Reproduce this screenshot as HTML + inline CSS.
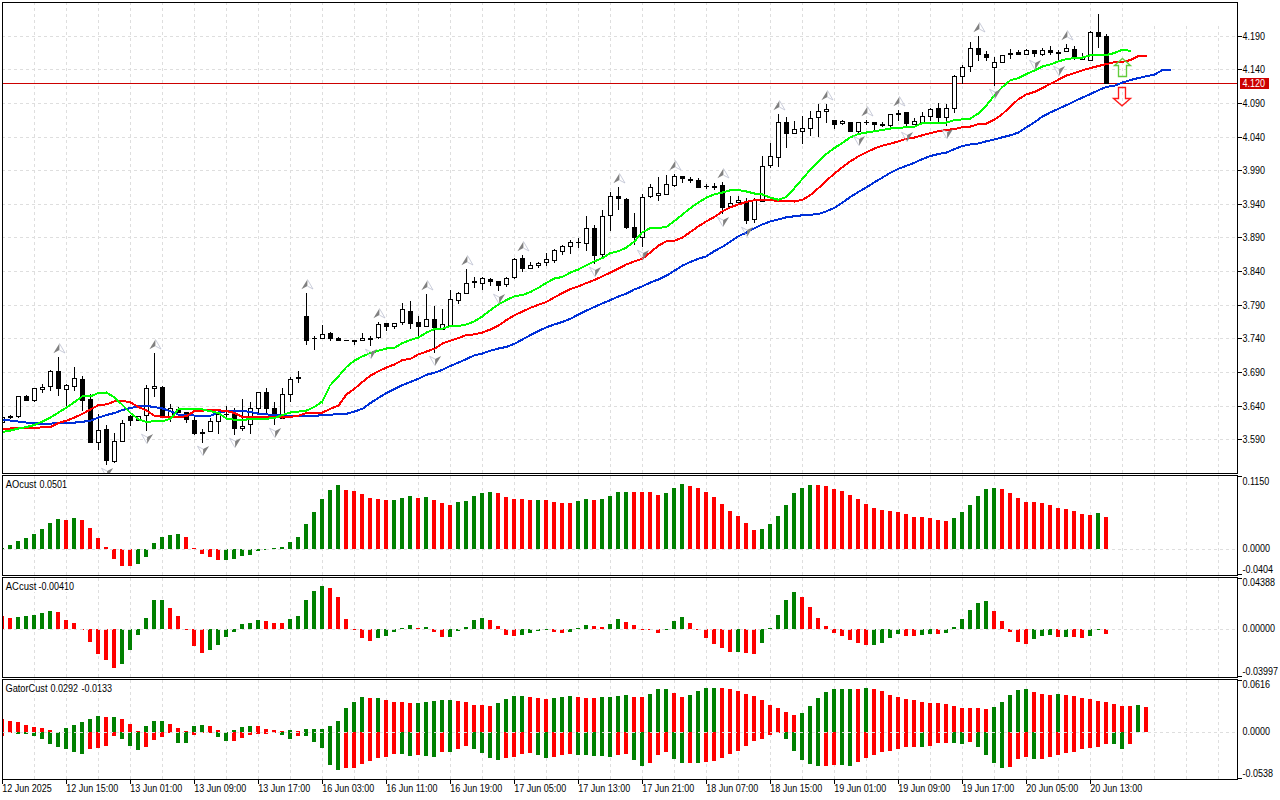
<!DOCTYPE html>
<html><head><meta charset="utf-8"><title>chart</title>
<style>html,body{margin:0;padding:0;background:#fff;overflow:hidden}svg{display:block}text{font-family:"Liberation Sans",sans-serif;font-size:10.0px;fill:#000}</style></head><body>
<svg width="1280" height="800" viewBox="0 0 1280 800">
<rect x="0" y="0" width="1280" height="800" fill="#ffffff"/>
<g shape-rendering="crispEdges" stroke="#dedede" stroke-width="1" fill="none">
<line x1="34.5" y1="3" x2="34.5" y2="473" stroke-dasharray="3 3" stroke-dashoffset="1"/>
<line x1="66.5" y1="3" x2="66.5" y2="473" stroke-dasharray="3 3" stroke-dashoffset="1"/>
<line x1="98.5" y1="3" x2="98.5" y2="473" stroke-dasharray="3 3" stroke-dashoffset="1"/>
<line x1="130.5" y1="3" x2="130.5" y2="473" stroke-dasharray="3 3" stroke-dashoffset="1"/>
<line x1="162.5" y1="3" x2="162.5" y2="473" stroke-dasharray="3 3" stroke-dashoffset="1"/>
<line x1="194.5" y1="3" x2="194.5" y2="473" stroke-dasharray="3 3" stroke-dashoffset="1"/>
<line x1="226.5" y1="3" x2="226.5" y2="473" stroke-dasharray="3 3" stroke-dashoffset="1"/>
<line x1="258.5" y1="3" x2="258.5" y2="473" stroke-dasharray="3 3" stroke-dashoffset="1"/>
<line x1="290.5" y1="3" x2="290.5" y2="473" stroke-dasharray="3 3" stroke-dashoffset="1"/>
<line x1="322.5" y1="3" x2="322.5" y2="473" stroke-dasharray="3 3" stroke-dashoffset="1"/>
<line x1="354.5" y1="3" x2="354.5" y2="473" stroke-dasharray="3 3" stroke-dashoffset="1"/>
<line x1="386.5" y1="3" x2="386.5" y2="473" stroke-dasharray="3 3" stroke-dashoffset="1"/>
<line x1="418.5" y1="3" x2="418.5" y2="473" stroke-dasharray="3 3" stroke-dashoffset="1"/>
<line x1="450.5" y1="3" x2="450.5" y2="473" stroke-dasharray="3 3" stroke-dashoffset="1"/>
<line x1="482.5" y1="3" x2="482.5" y2="473" stroke-dasharray="3 3" stroke-dashoffset="1"/>
<line x1="514.5" y1="3" x2="514.5" y2="473" stroke-dasharray="3 3" stroke-dashoffset="1"/>
<line x1="546.5" y1="3" x2="546.5" y2="473" stroke-dasharray="3 3" stroke-dashoffset="1"/>
<line x1="578.5" y1="3" x2="578.5" y2="473" stroke-dasharray="3 3" stroke-dashoffset="1"/>
<line x1="610.5" y1="3" x2="610.5" y2="473" stroke-dasharray="3 3" stroke-dashoffset="1"/>
<line x1="642.5" y1="3" x2="642.5" y2="473" stroke-dasharray="3 3" stroke-dashoffset="1"/>
<line x1="674.5" y1="3" x2="674.5" y2="473" stroke-dasharray="3 3" stroke-dashoffset="1"/>
<line x1="706.5" y1="3" x2="706.5" y2="473" stroke-dasharray="3 3" stroke-dashoffset="1"/>
<line x1="738.5" y1="3" x2="738.5" y2="473" stroke-dasharray="3 3" stroke-dashoffset="1"/>
<line x1="770.5" y1="3" x2="770.5" y2="473" stroke-dasharray="3 3" stroke-dashoffset="1"/>
<line x1="802.5" y1="3" x2="802.5" y2="473" stroke-dasharray="3 3" stroke-dashoffset="1"/>
<line x1="834.5" y1="3" x2="834.5" y2="473" stroke-dasharray="3 3" stroke-dashoffset="1"/>
<line x1="866.5" y1="3" x2="866.5" y2="473" stroke-dasharray="3 3" stroke-dashoffset="1"/>
<line x1="898.5" y1="3" x2="898.5" y2="473" stroke-dasharray="3 3" stroke-dashoffset="1"/>
<line x1="930.5" y1="3" x2="930.5" y2="473" stroke-dasharray="3 3" stroke-dashoffset="1"/>
<line x1="962.5" y1="3" x2="962.5" y2="473" stroke-dasharray="3 3" stroke-dashoffset="1"/>
<line x1="994.5" y1="3" x2="994.5" y2="473" stroke-dasharray="3 3" stroke-dashoffset="1"/>
<line x1="1026.5" y1="3" x2="1026.5" y2="473" stroke-dasharray="3 3" stroke-dashoffset="1"/>
<line x1="1058.5" y1="3" x2="1058.5" y2="473" stroke-dasharray="3 3" stroke-dashoffset="1"/>
<line x1="1090.5" y1="3" x2="1090.5" y2="473" stroke-dasharray="3 3" stroke-dashoffset="1"/>
<line x1="1122.5" y1="3" x2="1122.5" y2="473" stroke-dasharray="3 3" stroke-dashoffset="1"/>
<line x1="1154.5" y1="26" x2="1154.5" y2="473" stroke-dasharray="3 3" stroke-dashoffset="0"/>
<line x1="1186.5" y1="26" x2="1186.5" y2="473" stroke-dasharray="3 3" stroke-dashoffset="0"/>
<line x1="1218.5" y1="26" x2="1218.5" y2="473" stroke-dasharray="3 3" stroke-dashoffset="0"/>
<line x1="34.5" y1="476" x2="34.5" y2="575" stroke-dasharray="3 3" stroke-dashoffset="0"/>
<line x1="66.5" y1="476" x2="66.5" y2="575" stroke-dasharray="3 3" stroke-dashoffset="0"/>
<line x1="98.5" y1="476" x2="98.5" y2="575" stroke-dasharray="3 3" stroke-dashoffset="0"/>
<line x1="130.5" y1="476" x2="130.5" y2="575" stroke-dasharray="3 3" stroke-dashoffset="0"/>
<line x1="162.5" y1="476" x2="162.5" y2="575" stroke-dasharray="3 3" stroke-dashoffset="0"/>
<line x1="194.5" y1="476" x2="194.5" y2="575" stroke-dasharray="3 3" stroke-dashoffset="0"/>
<line x1="226.5" y1="476" x2="226.5" y2="575" stroke-dasharray="3 3" stroke-dashoffset="0"/>
<line x1="258.5" y1="476" x2="258.5" y2="575" stroke-dasharray="3 3" stroke-dashoffset="0"/>
<line x1="290.5" y1="476" x2="290.5" y2="575" stroke-dasharray="3 3" stroke-dashoffset="0"/>
<line x1="322.5" y1="476" x2="322.5" y2="575" stroke-dasharray="3 3" stroke-dashoffset="0"/>
<line x1="354.5" y1="476" x2="354.5" y2="575" stroke-dasharray="3 3" stroke-dashoffset="0"/>
<line x1="386.5" y1="476" x2="386.5" y2="575" stroke-dasharray="3 3" stroke-dashoffset="0"/>
<line x1="418.5" y1="476" x2="418.5" y2="575" stroke-dasharray="3 3" stroke-dashoffset="0"/>
<line x1="450.5" y1="476" x2="450.5" y2="575" stroke-dasharray="3 3" stroke-dashoffset="0"/>
<line x1="482.5" y1="476" x2="482.5" y2="575" stroke-dasharray="3 3" stroke-dashoffset="0"/>
<line x1="514.5" y1="476" x2="514.5" y2="575" stroke-dasharray="3 3" stroke-dashoffset="0"/>
<line x1="546.5" y1="476" x2="546.5" y2="575" stroke-dasharray="3 3" stroke-dashoffset="0"/>
<line x1="578.5" y1="476" x2="578.5" y2="575" stroke-dasharray="3 3" stroke-dashoffset="0"/>
<line x1="610.5" y1="476" x2="610.5" y2="575" stroke-dasharray="3 3" stroke-dashoffset="0"/>
<line x1="642.5" y1="476" x2="642.5" y2="575" stroke-dasharray="3 3" stroke-dashoffset="0"/>
<line x1="674.5" y1="476" x2="674.5" y2="575" stroke-dasharray="3 3" stroke-dashoffset="0"/>
<line x1="706.5" y1="476" x2="706.5" y2="575" stroke-dasharray="3 3" stroke-dashoffset="0"/>
<line x1="738.5" y1="476" x2="738.5" y2="575" stroke-dasharray="3 3" stroke-dashoffset="0"/>
<line x1="770.5" y1="476" x2="770.5" y2="575" stroke-dasharray="3 3" stroke-dashoffset="0"/>
<line x1="802.5" y1="476" x2="802.5" y2="575" stroke-dasharray="3 3" stroke-dashoffset="0"/>
<line x1="834.5" y1="476" x2="834.5" y2="575" stroke-dasharray="3 3" stroke-dashoffset="0"/>
<line x1="866.5" y1="476" x2="866.5" y2="575" stroke-dasharray="3 3" stroke-dashoffset="0"/>
<line x1="898.5" y1="476" x2="898.5" y2="575" stroke-dasharray="3 3" stroke-dashoffset="0"/>
<line x1="930.5" y1="476" x2="930.5" y2="575" stroke-dasharray="3 3" stroke-dashoffset="0"/>
<line x1="962.5" y1="476" x2="962.5" y2="575" stroke-dasharray="3 3" stroke-dashoffset="0"/>
<line x1="994.5" y1="476" x2="994.5" y2="575" stroke-dasharray="3 3" stroke-dashoffset="0"/>
<line x1="1026.5" y1="476" x2="1026.5" y2="575" stroke-dasharray="3 3" stroke-dashoffset="0"/>
<line x1="1058.5" y1="476" x2="1058.5" y2="575" stroke-dasharray="3 3" stroke-dashoffset="0"/>
<line x1="1090.5" y1="476" x2="1090.5" y2="575" stroke-dasharray="3 3" stroke-dashoffset="0"/>
<line x1="1122.5" y1="476" x2="1122.5" y2="575" stroke-dasharray="3 3" stroke-dashoffset="0"/>
<line x1="1154.5" y1="476" x2="1154.5" y2="575" stroke-dasharray="3 3" stroke-dashoffset="0"/>
<line x1="1186.5" y1="476" x2="1186.5" y2="575" stroke-dasharray="3 3" stroke-dashoffset="0"/>
<line x1="1218.5" y1="476" x2="1218.5" y2="575" stroke-dasharray="3 3" stroke-dashoffset="0"/>
<line x1="34.5" y1="578" x2="34.5" y2="677" stroke-dasharray="3 3" stroke-dashoffset="0"/>
<line x1="66.5" y1="578" x2="66.5" y2="677" stroke-dasharray="3 3" stroke-dashoffset="0"/>
<line x1="98.5" y1="578" x2="98.5" y2="677" stroke-dasharray="3 3" stroke-dashoffset="0"/>
<line x1="130.5" y1="578" x2="130.5" y2="677" stroke-dasharray="3 3" stroke-dashoffset="0"/>
<line x1="162.5" y1="578" x2="162.5" y2="677" stroke-dasharray="3 3" stroke-dashoffset="0"/>
<line x1="194.5" y1="578" x2="194.5" y2="677" stroke-dasharray="3 3" stroke-dashoffset="0"/>
<line x1="226.5" y1="578" x2="226.5" y2="677" stroke-dasharray="3 3" stroke-dashoffset="0"/>
<line x1="258.5" y1="578" x2="258.5" y2="677" stroke-dasharray="3 3" stroke-dashoffset="0"/>
<line x1="290.5" y1="578" x2="290.5" y2="677" stroke-dasharray="3 3" stroke-dashoffset="0"/>
<line x1="322.5" y1="578" x2="322.5" y2="677" stroke-dasharray="3 3" stroke-dashoffset="0"/>
<line x1="354.5" y1="578" x2="354.5" y2="677" stroke-dasharray="3 3" stroke-dashoffset="0"/>
<line x1="386.5" y1="578" x2="386.5" y2="677" stroke-dasharray="3 3" stroke-dashoffset="0"/>
<line x1="418.5" y1="578" x2="418.5" y2="677" stroke-dasharray="3 3" stroke-dashoffset="0"/>
<line x1="450.5" y1="578" x2="450.5" y2="677" stroke-dasharray="3 3" stroke-dashoffset="0"/>
<line x1="482.5" y1="578" x2="482.5" y2="677" stroke-dasharray="3 3" stroke-dashoffset="0"/>
<line x1="514.5" y1="578" x2="514.5" y2="677" stroke-dasharray="3 3" stroke-dashoffset="0"/>
<line x1="546.5" y1="578" x2="546.5" y2="677" stroke-dasharray="3 3" stroke-dashoffset="0"/>
<line x1="578.5" y1="578" x2="578.5" y2="677" stroke-dasharray="3 3" stroke-dashoffset="0"/>
<line x1="610.5" y1="578" x2="610.5" y2="677" stroke-dasharray="3 3" stroke-dashoffset="0"/>
<line x1="642.5" y1="578" x2="642.5" y2="677" stroke-dasharray="3 3" stroke-dashoffset="0"/>
<line x1="674.5" y1="578" x2="674.5" y2="677" stroke-dasharray="3 3" stroke-dashoffset="0"/>
<line x1="706.5" y1="578" x2="706.5" y2="677" stroke-dasharray="3 3" stroke-dashoffset="0"/>
<line x1="738.5" y1="578" x2="738.5" y2="677" stroke-dasharray="3 3" stroke-dashoffset="0"/>
<line x1="770.5" y1="578" x2="770.5" y2="677" stroke-dasharray="3 3" stroke-dashoffset="0"/>
<line x1="802.5" y1="578" x2="802.5" y2="677" stroke-dasharray="3 3" stroke-dashoffset="0"/>
<line x1="834.5" y1="578" x2="834.5" y2="677" stroke-dasharray="3 3" stroke-dashoffset="0"/>
<line x1="866.5" y1="578" x2="866.5" y2="677" stroke-dasharray="3 3" stroke-dashoffset="0"/>
<line x1="898.5" y1="578" x2="898.5" y2="677" stroke-dasharray="3 3" stroke-dashoffset="0"/>
<line x1="930.5" y1="578" x2="930.5" y2="677" stroke-dasharray="3 3" stroke-dashoffset="0"/>
<line x1="962.5" y1="578" x2="962.5" y2="677" stroke-dasharray="3 3" stroke-dashoffset="0"/>
<line x1="994.5" y1="578" x2="994.5" y2="677" stroke-dasharray="3 3" stroke-dashoffset="0"/>
<line x1="1026.5" y1="578" x2="1026.5" y2="677" stroke-dasharray="3 3" stroke-dashoffset="0"/>
<line x1="1058.5" y1="578" x2="1058.5" y2="677" stroke-dasharray="3 3" stroke-dashoffset="0"/>
<line x1="1090.5" y1="578" x2="1090.5" y2="677" stroke-dasharray="3 3" stroke-dashoffset="0"/>
<line x1="1122.5" y1="578" x2="1122.5" y2="677" stroke-dasharray="3 3" stroke-dashoffset="0"/>
<line x1="1154.5" y1="578" x2="1154.5" y2="677" stroke-dasharray="3 3" stroke-dashoffset="0"/>
<line x1="1186.5" y1="578" x2="1186.5" y2="677" stroke-dasharray="3 3" stroke-dashoffset="0"/>
<line x1="1218.5" y1="578" x2="1218.5" y2="677" stroke-dasharray="3 3" stroke-dashoffset="0"/>
<line x1="34.5" y1="680" x2="34.5" y2="779" stroke-dasharray="3 3" stroke-dashoffset="0"/>
<line x1="66.5" y1="680" x2="66.5" y2="779" stroke-dasharray="3 3" stroke-dashoffset="0"/>
<line x1="98.5" y1="680" x2="98.5" y2="779" stroke-dasharray="3 3" stroke-dashoffset="0"/>
<line x1="130.5" y1="680" x2="130.5" y2="779" stroke-dasharray="3 3" stroke-dashoffset="0"/>
<line x1="162.5" y1="680" x2="162.5" y2="779" stroke-dasharray="3 3" stroke-dashoffset="0"/>
<line x1="194.5" y1="680" x2="194.5" y2="779" stroke-dasharray="3 3" stroke-dashoffset="0"/>
<line x1="226.5" y1="680" x2="226.5" y2="779" stroke-dasharray="3 3" stroke-dashoffset="0"/>
<line x1="258.5" y1="680" x2="258.5" y2="779" stroke-dasharray="3 3" stroke-dashoffset="0"/>
<line x1="290.5" y1="680" x2="290.5" y2="779" stroke-dasharray="3 3" stroke-dashoffset="0"/>
<line x1="322.5" y1="680" x2="322.5" y2="779" stroke-dasharray="3 3" stroke-dashoffset="0"/>
<line x1="354.5" y1="680" x2="354.5" y2="779" stroke-dasharray="3 3" stroke-dashoffset="0"/>
<line x1="386.5" y1="680" x2="386.5" y2="779" stroke-dasharray="3 3" stroke-dashoffset="0"/>
<line x1="418.5" y1="680" x2="418.5" y2="779" stroke-dasharray="3 3" stroke-dashoffset="0"/>
<line x1="450.5" y1="680" x2="450.5" y2="779" stroke-dasharray="3 3" stroke-dashoffset="0"/>
<line x1="482.5" y1="680" x2="482.5" y2="779" stroke-dasharray="3 3" stroke-dashoffset="0"/>
<line x1="514.5" y1="680" x2="514.5" y2="779" stroke-dasharray="3 3" stroke-dashoffset="0"/>
<line x1="546.5" y1="680" x2="546.5" y2="779" stroke-dasharray="3 3" stroke-dashoffset="0"/>
<line x1="578.5" y1="680" x2="578.5" y2="779" stroke-dasharray="3 3" stroke-dashoffset="0"/>
<line x1="610.5" y1="680" x2="610.5" y2="779" stroke-dasharray="3 3" stroke-dashoffset="0"/>
<line x1="642.5" y1="680" x2="642.5" y2="779" stroke-dasharray="3 3" stroke-dashoffset="0"/>
<line x1="674.5" y1="680" x2="674.5" y2="779" stroke-dasharray="3 3" stroke-dashoffset="0"/>
<line x1="706.5" y1="680" x2="706.5" y2="779" stroke-dasharray="3 3" stroke-dashoffset="0"/>
<line x1="738.5" y1="680" x2="738.5" y2="779" stroke-dasharray="3 3" stroke-dashoffset="0"/>
<line x1="770.5" y1="680" x2="770.5" y2="779" stroke-dasharray="3 3" stroke-dashoffset="0"/>
<line x1="802.5" y1="680" x2="802.5" y2="779" stroke-dasharray="3 3" stroke-dashoffset="0"/>
<line x1="834.5" y1="680" x2="834.5" y2="779" stroke-dasharray="3 3" stroke-dashoffset="0"/>
<line x1="866.5" y1="680" x2="866.5" y2="779" stroke-dasharray="3 3" stroke-dashoffset="0"/>
<line x1="898.5" y1="680" x2="898.5" y2="779" stroke-dasharray="3 3" stroke-dashoffset="0"/>
<line x1="930.5" y1="680" x2="930.5" y2="779" stroke-dasharray="3 3" stroke-dashoffset="0"/>
<line x1="962.5" y1="680" x2="962.5" y2="779" stroke-dasharray="3 3" stroke-dashoffset="0"/>
<line x1="994.5" y1="680" x2="994.5" y2="779" stroke-dasharray="3 3" stroke-dashoffset="0"/>
<line x1="1026.5" y1="680" x2="1026.5" y2="779" stroke-dasharray="3 3" stroke-dashoffset="0"/>
<line x1="1058.5" y1="680" x2="1058.5" y2="779" stroke-dasharray="3 3" stroke-dashoffset="0"/>
<line x1="1090.5" y1="680" x2="1090.5" y2="779" stroke-dasharray="3 3" stroke-dashoffset="0"/>
<line x1="1122.5" y1="680" x2="1122.5" y2="779" stroke-dasharray="3 3" stroke-dashoffset="0"/>
<line x1="1154.5" y1="680" x2="1154.5" y2="779" stroke-dasharray="3 3" stroke-dashoffset="0"/>
<line x1="1186.5" y1="680" x2="1186.5" y2="779" stroke-dasharray="3 3" stroke-dashoffset="0"/>
<line x1="1218.5" y1="680" x2="1218.5" y2="779" stroke-dasharray="3 3" stroke-dashoffset="0"/>
<line x1="3" y1="36.5" x2="1237" y2="36.5" stroke-dasharray="3 3" stroke-dashoffset="1"/>
<line x1="3" y1="69.5" x2="1237" y2="69.5" stroke-dasharray="3 3" stroke-dashoffset="1"/>
<line x1="3" y1="103.5" x2="1237" y2="103.5" stroke-dasharray="3 3" stroke-dashoffset="1"/>
<line x1="3" y1="137.5" x2="1237" y2="137.5" stroke-dasharray="3 3" stroke-dashoffset="1"/>
<line x1="3" y1="170.5" x2="1237" y2="170.5" stroke-dasharray="3 3" stroke-dashoffset="1"/>
<line x1="3" y1="204.5" x2="1237" y2="204.5" stroke-dasharray="3 3" stroke-dashoffset="1"/>
<line x1="3" y1="237.5" x2="1237" y2="237.5" stroke-dasharray="3 3" stroke-dashoffset="1"/>
<line x1="3" y1="271.5" x2="1237" y2="271.5" stroke-dasharray="3 3" stroke-dashoffset="1"/>
<line x1="3" y1="305.5" x2="1237" y2="305.5" stroke-dasharray="3 3" stroke-dashoffset="1"/>
<line x1="3" y1="338.5" x2="1237" y2="338.5" stroke-dasharray="3 3" stroke-dashoffset="1"/>
<line x1="3" y1="372.5" x2="1237" y2="372.5" stroke-dasharray="3 3" stroke-dashoffset="1"/>
<line x1="3" y1="406.5" x2="1237" y2="406.5" stroke-dasharray="3 3" stroke-dashoffset="1"/>
<line x1="3" y1="439.5" x2="1237" y2="439.5" stroke-dasharray="3 3" stroke-dashoffset="1"/>
</g>
<defs><clipPath id="cm"><rect x="3" y="3" width="1234" height="470"/></clipPath></defs>
<g clip-path="url(#cm)">
<g shape-rendering="crispEdges">
<rect x="3" y="83" width="1234" height="1" fill="#cc0000"/>
<rect x="2" y="417" width="1" height="6" fill="#000"/>
<rect x="0" y="417" width="5" height="6" fill="#000"/>
<rect x="1" y="418" width="3" height="4" fill="#fff"/>
<rect x="10" y="415" width="1" height="4" fill="#000"/>
<rect x="8" y="416" width="5" height="2" fill="#000"/>
<rect x="18" y="396" width="1" height="22" fill="#000"/>
<rect x="16" y="396" width="5" height="21" fill="#000"/>
<rect x="17" y="397" width="3" height="19" fill="#fff"/>
<rect x="26" y="395" width="1" height="6" fill="#000"/>
<rect x="24" y="396" width="5" height="5" fill="#000"/>
<rect x="34" y="388" width="1" height="14" fill="#000"/>
<rect x="32" y="388" width="5" height="13" fill="#000"/>
<rect x="33" y="389" width="3" height="11" fill="#fff"/>
<rect x="42" y="384" width="1" height="9" fill="#000"/>
<rect x="40" y="387" width="5" height="3" fill="#000"/>
<rect x="41" y="388" width="3" height="1" fill="#fff"/>
<rect x="50" y="370" width="1" height="21" fill="#000"/>
<rect x="48" y="371" width="5" height="16" fill="#000"/>
<rect x="49" y="372" width="3" height="14" fill="#fff"/>
<rect x="58" y="357" width="1" height="39" fill="#000"/>
<rect x="56" y="371" width="5" height="18" fill="#000"/>
<rect x="66" y="384" width="1" height="22" fill="#000"/>
<rect x="64" y="385" width="5" height="5" fill="#000"/>
<rect x="65" y="386" width="3" height="3" fill="#fff"/>
<rect x="74" y="367" width="1" height="24" fill="#000"/>
<rect x="72" y="378" width="5" height="9" fill="#000"/>
<rect x="73" y="379" width="3" height="7" fill="#fff"/>
<rect x="82" y="376" width="1" height="35" fill="#000"/>
<rect x="80" y="379" width="5" height="22" fill="#000"/>
<rect x="90" y="394" width="1" height="49" fill="#000"/>
<rect x="88" y="399" width="5" height="44" fill="#000"/>
<rect x="98" y="414" width="1" height="36" fill="#000"/>
<rect x="96" y="430" width="5" height="13" fill="#000"/>
<rect x="97" y="431" width="3" height="11" fill="#fff"/>
<rect x="106" y="425" width="1" height="40" fill="#000"/>
<rect x="104" y="429" width="5" height="32" fill="#000"/>
<rect x="114" y="433" width="1" height="30" fill="#000"/>
<rect x="112" y="441" width="5" height="21" fill="#000"/>
<rect x="113" y="442" width="3" height="19" fill="#fff"/>
<rect x="122" y="420" width="1" height="22" fill="#000"/>
<rect x="120" y="423" width="5" height="19" fill="#000"/>
<rect x="121" y="424" width="3" height="17" fill="#fff"/>
<rect x="130" y="415" width="1" height="11" fill="#000"/>
<rect x="128" y="416" width="5" height="5" fill="#000"/>
<rect x="138" y="416" width="1" height="5" fill="#000"/>
<rect x="136" y="416" width="5" height="5" fill="#000"/>
<rect x="137" y="417" width="3" height="3" fill="#fff"/>
<rect x="146" y="385" width="1" height="46" fill="#000"/>
<rect x="144" y="388" width="5" height="28" fill="#000"/>
<rect x="145" y="389" width="3" height="26" fill="#fff"/>
<rect x="154" y="353" width="1" height="44" fill="#000"/>
<rect x="152" y="386" width="5" height="3" fill="#000"/>
<rect x="153" y="387" width="3" height="1" fill="#fff"/>
<rect x="162" y="386" width="1" height="30" fill="#000"/>
<rect x="160" y="387" width="5" height="29" fill="#000"/>
<rect x="170" y="404" width="1" height="18" fill="#000"/>
<rect x="168" y="408" width="5" height="9" fill="#000"/>
<rect x="169" y="409" width="3" height="7" fill="#fff"/>
<rect x="178" y="407" width="1" height="6" fill="#000"/>
<rect x="176" y="409" width="5" height="4" fill="#000"/>
<rect x="186" y="412" width="1" height="11" fill="#000"/>
<rect x="184" y="412" width="5" height="8" fill="#000"/>
<rect x="194" y="417" width="1" height="18" fill="#000"/>
<rect x="192" y="420" width="5" height="14" fill="#000"/>
<rect x="202" y="429" width="1" height="14" fill="#000"/>
<rect x="200" y="432" width="5" height="2" fill="#000"/>
<rect x="210" y="418" width="1" height="14" fill="#000"/>
<rect x="208" y="421" width="5" height="11" fill="#000"/>
<rect x="209" y="422" width="3" height="9" fill="#fff"/>
<rect x="218" y="412" width="1" height="22" fill="#000"/>
<rect x="216" y="414" width="5" height="8" fill="#000"/>
<rect x="217" y="415" width="3" height="6" fill="#fff"/>
<rect x="226" y="406" width="1" height="12" fill="#000"/>
<rect x="224" y="414" width="5" height="1" fill="#000"/>
<rect x="234" y="408" width="1" height="27" fill="#000"/>
<rect x="232" y="414" width="5" height="15" fill="#000"/>
<rect x="242" y="399" width="1" height="32" fill="#000"/>
<rect x="240" y="426" width="5" height="3" fill="#000"/>
<rect x="241" y="427" width="3" height="1" fill="#fff"/>
<rect x="250" y="402" width="1" height="32" fill="#000"/>
<rect x="248" y="408" width="5" height="17" fill="#000"/>
<rect x="249" y="409" width="3" height="15" fill="#fff"/>
<rect x="258" y="392" width="1" height="21" fill="#000"/>
<rect x="256" y="392" width="5" height="17" fill="#000"/>
<rect x="257" y="393" width="3" height="15" fill="#fff"/>
<rect x="266" y="388" width="1" height="26" fill="#000"/>
<rect x="264" y="392" width="5" height="17" fill="#000"/>
<rect x="274" y="402" width="1" height="23" fill="#000"/>
<rect x="272" y="408" width="5" height="8" fill="#000"/>
<rect x="282" y="388" width="1" height="31" fill="#000"/>
<rect x="280" y="394" width="5" height="25" fill="#000"/>
<rect x="281" y="395" width="3" height="23" fill="#fff"/>
<rect x="290" y="377" width="1" height="25" fill="#000"/>
<rect x="288" y="379" width="5" height="16" fill="#000"/>
<rect x="289" y="380" width="3" height="14" fill="#fff"/>
<rect x="298" y="371" width="1" height="12" fill="#000"/>
<rect x="296" y="377" width="5" height="2" fill="#000"/>
<rect x="306" y="293" width="1" height="52" fill="#000"/>
<rect x="304" y="316" width="5" height="25" fill="#000"/>
<rect x="314" y="336" width="1" height="14" fill="#000"/>
<rect x="312" y="338" width="5" height="1" fill="#000"/>
<rect x="322" y="325" width="1" height="14" fill="#000"/>
<rect x="320" y="334" width="5" height="5" fill="#000"/>
<rect x="321" y="335" width="3" height="3" fill="#fff"/>
<rect x="330" y="332" width="1" height="9" fill="#000"/>
<rect x="328" y="333" width="5" height="6" fill="#000"/>
<rect x="338" y="337" width="1" height="4" fill="#000"/>
<rect x="336" y="338" width="5" height="3" fill="#000"/>
<rect x="346" y="340" width="1" height="1" fill="#000"/>
<rect x="344" y="340" width="5" height="1" fill="#000"/>
<rect x="354" y="340" width="1" height="5" fill="#000"/>
<rect x="352" y="340" width="5" height="2" fill="#000"/>
<rect x="362" y="333" width="1" height="8" fill="#000"/>
<rect x="360" y="338" width="5" height="3" fill="#000"/>
<rect x="361" y="339" width="3" height="1" fill="#fff"/>
<rect x="370" y="336" width="1" height="10" fill="#000"/>
<rect x="368" y="338" width="5" height="2" fill="#000"/>
<rect x="378" y="322" width="1" height="17" fill="#000"/>
<rect x="376" y="324" width="5" height="14" fill="#000"/>
<rect x="377" y="325" width="3" height="12" fill="#fff"/>
<rect x="386" y="323" width="1" height="8" fill="#000"/>
<rect x="384" y="323" width="5" height="4" fill="#000"/>
<rect x="394" y="323" width="1" height="6" fill="#000"/>
<rect x="392" y="323" width="5" height="4" fill="#000"/>
<rect x="393" y="324" width="3" height="2" fill="#fff"/>
<rect x="402" y="303" width="1" height="22" fill="#000"/>
<rect x="400" y="309" width="5" height="14" fill="#000"/>
<rect x="401" y="310" width="3" height="12" fill="#fff"/>
<rect x="410" y="301" width="1" height="28" fill="#000"/>
<rect x="408" y="311" width="5" height="13" fill="#000"/>
<rect x="418" y="316" width="1" height="21" fill="#000"/>
<rect x="416" y="322" width="5" height="5" fill="#000"/>
<rect x="426" y="294" width="1" height="33" fill="#000"/>
<rect x="424" y="319" width="5" height="8" fill="#000"/>
<rect x="425" y="320" width="3" height="6" fill="#fff"/>
<rect x="434" y="306" width="1" height="47" fill="#000"/>
<rect x="432" y="319" width="5" height="9" fill="#000"/>
<rect x="442" y="309" width="1" height="21" fill="#000"/>
<rect x="440" y="324" width="5" height="6" fill="#000"/>
<rect x="441" y="325" width="3" height="4" fill="#fff"/>
<rect x="450" y="290" width="1" height="36" fill="#000"/>
<rect x="448" y="299" width="5" height="27" fill="#000"/>
<rect x="449" y="300" width="3" height="25" fill="#fff"/>
<rect x="458" y="292" width="1" height="12" fill="#000"/>
<rect x="456" y="293" width="5" height="8" fill="#000"/>
<rect x="457" y="294" width="3" height="6" fill="#fff"/>
<rect x="466" y="269" width="1" height="25" fill="#000"/>
<rect x="464" y="283" width="5" height="11" fill="#000"/>
<rect x="465" y="284" width="3" height="9" fill="#fff"/>
<rect x="474" y="277" width="1" height="11" fill="#000"/>
<rect x="472" y="281" width="5" height="2" fill="#000"/>
<rect x="482" y="277" width="1" height="13" fill="#000"/>
<rect x="480" y="278" width="5" height="6" fill="#000"/>
<rect x="481" y="279" width="3" height="4" fill="#fff"/>
<rect x="490" y="278" width="1" height="8" fill="#000"/>
<rect x="488" y="279" width="5" height="3" fill="#000"/>
<rect x="498" y="281" width="1" height="10" fill="#000"/>
<rect x="496" y="281" width="5" height="5" fill="#000"/>
<rect x="506" y="277" width="1" height="10" fill="#000"/>
<rect x="504" y="278" width="5" height="7" fill="#000"/>
<rect x="505" y="279" width="3" height="5" fill="#fff"/>
<rect x="514" y="258" width="1" height="21" fill="#000"/>
<rect x="512" y="259" width="5" height="19" fill="#000"/>
<rect x="513" y="260" width="3" height="17" fill="#fff"/>
<rect x="522" y="255" width="1" height="17" fill="#000"/>
<rect x="520" y="258" width="5" height="11" fill="#000"/>
<rect x="530" y="262" width="1" height="7" fill="#000"/>
<rect x="528" y="265" width="5" height="4" fill="#000"/>
<rect x="529" y="266" width="3" height="2" fill="#fff"/>
<rect x="538" y="262" width="1" height="6" fill="#000"/>
<rect x="536" y="263" width="5" height="3" fill="#000"/>
<rect x="537" y="264" width="3" height="1" fill="#fff"/>
<rect x="546" y="253" width="1" height="13" fill="#000"/>
<rect x="544" y="259" width="5" height="4" fill="#000"/>
<rect x="545" y="260" width="3" height="2" fill="#fff"/>
<rect x="554" y="249" width="1" height="14" fill="#000"/>
<rect x="552" y="250" width="5" height="11" fill="#000"/>
<rect x="553" y="251" width="3" height="9" fill="#fff"/>
<rect x="562" y="245" width="1" height="10" fill="#000"/>
<rect x="560" y="246" width="5" height="6" fill="#000"/>
<rect x="561" y="247" width="3" height="4" fill="#fff"/>
<rect x="570" y="240" width="1" height="14" fill="#000"/>
<rect x="568" y="242" width="5" height="5" fill="#000"/>
<rect x="569" y="243" width="3" height="3" fill="#fff"/>
<rect x="578" y="238" width="1" height="10" fill="#000"/>
<rect x="576" y="242" width="5" height="1" fill="#000"/>
<rect x="586" y="216" width="1" height="35" fill="#000"/>
<rect x="584" y="228" width="5" height="16" fill="#000"/>
<rect x="585" y="229" width="3" height="14" fill="#fff"/>
<rect x="594" y="225" width="1" height="39" fill="#000"/>
<rect x="592" y="228" width="5" height="28" fill="#000"/>
<rect x="602" y="210" width="1" height="48" fill="#000"/>
<rect x="600" y="216" width="5" height="39" fill="#000"/>
<rect x="601" y="217" width="3" height="37" fill="#fff"/>
<rect x="610" y="192" width="1" height="39" fill="#000"/>
<rect x="608" y="196" width="5" height="20" fill="#000"/>
<rect x="609" y="197" width="3" height="18" fill="#fff"/>
<rect x="618" y="187" width="1" height="23" fill="#000"/>
<rect x="616" y="196" width="5" height="3" fill="#000"/>
<rect x="626" y="198" width="1" height="31" fill="#000"/>
<rect x="624" y="199" width="5" height="29" fill="#000"/>
<rect x="634" y="213" width="1" height="32" fill="#000"/>
<rect x="632" y="227" width="5" height="11" fill="#000"/>
<rect x="642" y="194" width="1" height="53" fill="#000"/>
<rect x="640" y="197" width="5" height="41" fill="#000"/>
<rect x="641" y="198" width="3" height="39" fill="#fff"/>
<rect x="650" y="184" width="1" height="14" fill="#000"/>
<rect x="648" y="187" width="5" height="10" fill="#000"/>
<rect x="649" y="188" width="3" height="8" fill="#fff"/>
<rect x="658" y="177" width="1" height="24" fill="#000"/>
<rect x="656" y="193" width="5" height="3" fill="#000"/>
<rect x="657" y="194" width="3" height="1" fill="#fff"/>
<rect x="666" y="175" width="1" height="20" fill="#000"/>
<rect x="664" y="184" width="5" height="11" fill="#000"/>
<rect x="665" y="185" width="3" height="9" fill="#fff"/>
<rect x="674" y="174" width="1" height="13" fill="#000"/>
<rect x="672" y="176" width="5" height="10" fill="#000"/>
<rect x="673" y="177" width="3" height="8" fill="#fff"/>
<rect x="682" y="176" width="1" height="7" fill="#000"/>
<rect x="680" y="176" width="5" height="3" fill="#000"/>
<rect x="690" y="177" width="1" height="6" fill="#000"/>
<rect x="688" y="179" width="5" height="2" fill="#000"/>
<rect x="698" y="178" width="1" height="10" fill="#000"/>
<rect x="696" y="180" width="5" height="8" fill="#000"/>
<rect x="706" y="184" width="1" height="5" fill="#000"/>
<rect x="704" y="186" width="5" height="1" fill="#000"/>
<rect x="714" y="183" width="1" height="7" fill="#000"/>
<rect x="712" y="186" width="5" height="2" fill="#000"/>
<rect x="722" y="182" width="1" height="32" fill="#000"/>
<rect x="720" y="185" width="5" height="23" fill="#000"/>
<rect x="730" y="196" width="1" height="11" fill="#000"/>
<rect x="728" y="203" width="5" height="4" fill="#000"/>
<rect x="729" y="204" width="3" height="2" fill="#fff"/>
<rect x="738" y="196" width="1" height="8" fill="#000"/>
<rect x="736" y="200" width="5" height="3" fill="#000"/>
<rect x="737" y="201" width="3" height="1" fill="#fff"/>
<rect x="746" y="198" width="1" height="26" fill="#000"/>
<rect x="744" y="201" width="5" height="20" fill="#000"/>
<rect x="754" y="198" width="1" height="25" fill="#000"/>
<rect x="752" y="200" width="5" height="20" fill="#000"/>
<rect x="753" y="201" width="3" height="18" fill="#fff"/>
<rect x="762" y="156" width="1" height="46" fill="#000"/>
<rect x="760" y="166" width="5" height="36" fill="#000"/>
<rect x="761" y="167" width="3" height="34" fill="#fff"/>
<rect x="770" y="143" width="1" height="25" fill="#000"/>
<rect x="768" y="156" width="5" height="10" fill="#000"/>
<rect x="769" y="157" width="3" height="8" fill="#fff"/>
<rect x="778" y="114" width="1" height="53" fill="#000"/>
<rect x="776" y="122" width="5" height="36" fill="#000"/>
<rect x="777" y="123" width="3" height="34" fill="#fff"/>
<rect x="786" y="117" width="1" height="31" fill="#000"/>
<rect x="784" y="122" width="5" height="12" fill="#000"/>
<rect x="794" y="121" width="1" height="13" fill="#000"/>
<rect x="792" y="129" width="5" height="5" fill="#000"/>
<rect x="793" y="130" width="3" height="3" fill="#fff"/>
<rect x="802" y="116" width="1" height="28" fill="#000"/>
<rect x="800" y="128" width="5" height="4" fill="#000"/>
<rect x="801" y="129" width="3" height="2" fill="#fff"/>
<rect x="810" y="111" width="1" height="25" fill="#000"/>
<rect x="808" y="118" width="5" height="11" fill="#000"/>
<rect x="809" y="119" width="3" height="9" fill="#fff"/>
<rect x="818" y="104" width="1" height="33" fill="#000"/>
<rect x="816" y="111" width="5" height="7" fill="#000"/>
<rect x="817" y="112" width="3" height="5" fill="#fff"/>
<rect x="826" y="104" width="1" height="19" fill="#000"/>
<rect x="824" y="109" width="5" height="3" fill="#000"/>
<rect x="825" y="110" width="3" height="1" fill="#fff"/>
<rect x="834" y="120" width="1" height="9" fill="#000"/>
<rect x="832" y="120" width="5" height="5" fill="#000"/>
<rect x="842" y="120" width="1" height="5" fill="#000"/>
<rect x="840" y="121" width="5" height="3" fill="#000"/>
<rect x="841" y="122" width="3" height="1" fill="#fff"/>
<rect x="850" y="122" width="1" height="10" fill="#000"/>
<rect x="848" y="122" width="5" height="10" fill="#000"/>
<rect x="858" y="122" width="1" height="11" fill="#000"/>
<rect x="856" y="122" width="5" height="10" fill="#000"/>
<rect x="857" y="123" width="3" height="8" fill="#fff"/>
<rect x="866" y="120" width="1" height="5" fill="#000"/>
<rect x="864" y="122" width="5" height="1" fill="#000"/>
<rect x="874" y="122" width="1" height="9" fill="#000"/>
<rect x="872" y="122" width="5" height="3" fill="#000"/>
<rect x="882" y="122" width="1" height="5" fill="#000"/>
<rect x="880" y="124" width="5" height="2" fill="#000"/>
<rect x="890" y="114" width="1" height="13" fill="#000"/>
<rect x="888" y="114" width="5" height="12" fill="#000"/>
<rect x="889" y="115" width="3" height="10" fill="#fff"/>
<rect x="898" y="110" width="1" height="11" fill="#000"/>
<rect x="896" y="113" width="5" height="2" fill="#000"/>
<rect x="906" y="112" width="1" height="14" fill="#000"/>
<rect x="904" y="112" width="5" height="12" fill="#000"/>
<rect x="914" y="118" width="1" height="7" fill="#000"/>
<rect x="912" y="121" width="5" height="4" fill="#000"/>
<rect x="913" y="122" width="3" height="2" fill="#fff"/>
<rect x="922" y="112" width="1" height="11" fill="#000"/>
<rect x="920" y="116" width="5" height="7" fill="#000"/>
<rect x="921" y="117" width="3" height="5" fill="#fff"/>
<rect x="930" y="108" width="1" height="13" fill="#000"/>
<rect x="928" y="109" width="5" height="8" fill="#000"/>
<rect x="929" y="110" width="3" height="6" fill="#fff"/>
<rect x="938" y="103" width="1" height="19" fill="#000"/>
<rect x="936" y="108" width="5" height="10" fill="#000"/>
<rect x="946" y="104" width="1" height="22" fill="#000"/>
<rect x="944" y="108" width="5" height="10" fill="#000"/>
<rect x="945" y="109" width="3" height="8" fill="#fff"/>
<rect x="954" y="75" width="1" height="38" fill="#000"/>
<rect x="952" y="76" width="5" height="33" fill="#000"/>
<rect x="953" y="77" width="3" height="31" fill="#fff"/>
<rect x="962" y="65" width="1" height="19" fill="#000"/>
<rect x="960" y="67" width="5" height="10" fill="#000"/>
<rect x="961" y="68" width="3" height="8" fill="#fff"/>
<rect x="970" y="42" width="1" height="30" fill="#000"/>
<rect x="968" y="48" width="5" height="19" fill="#000"/>
<rect x="969" y="49" width="3" height="17" fill="#fff"/>
<rect x="978" y="36" width="1" height="25" fill="#000"/>
<rect x="976" y="48" width="5" height="7" fill="#000"/>
<rect x="986" y="51" width="1" height="10" fill="#000"/>
<rect x="984" y="54" width="5" height="4" fill="#000"/>
<rect x="994" y="57" width="1" height="29" fill="#000"/>
<rect x="992" y="62" width="5" height="6" fill="#000"/>
<rect x="993" y="63" width="3" height="4" fill="#fff"/>
<rect x="1002" y="55" width="1" height="8" fill="#000"/>
<rect x="1000" y="55" width="5" height="8" fill="#000"/>
<rect x="1001" y="56" width="3" height="6" fill="#fff"/>
<rect x="1010" y="49" width="1" height="10" fill="#000"/>
<rect x="1008" y="53" width="5" height="2" fill="#000"/>
<rect x="1018" y="50" width="1" height="5" fill="#000"/>
<rect x="1016" y="52" width="5" height="3" fill="#000"/>
<rect x="1026" y="49" width="1" height="6" fill="#000"/>
<rect x="1024" y="50" width="5" height="5" fill="#000"/>
<rect x="1025" y="51" width="3" height="3" fill="#fff"/>
<rect x="1034" y="50" width="1" height="7" fill="#000"/>
<rect x="1032" y="50" width="5" height="4" fill="#000"/>
<rect x="1042" y="48" width="1" height="8" fill="#000"/>
<rect x="1040" y="50" width="5" height="5" fill="#000"/>
<rect x="1041" y="51" width="3" height="3" fill="#fff"/>
<rect x="1050" y="46" width="1" height="9" fill="#000"/>
<rect x="1048" y="50" width="5" height="3" fill="#000"/>
<rect x="1058" y="50" width="1" height="10" fill="#000"/>
<rect x="1056" y="52" width="5" height="2" fill="#000"/>
<rect x="1066" y="44" width="1" height="8" fill="#000"/>
<rect x="1064" y="48" width="5" height="4" fill="#000"/>
<rect x="1065" y="49" width="3" height="2" fill="#fff"/>
<rect x="1074" y="46" width="1" height="14" fill="#000"/>
<rect x="1072" y="49" width="5" height="9" fill="#000"/>
<rect x="1082" y="53" width="1" height="7" fill="#000"/>
<rect x="1080" y="57" width="5" height="3" fill="#000"/>
<rect x="1081" y="58" width="3" height="1" fill="#fff"/>
<rect x="1090" y="31" width="1" height="30" fill="#000"/>
<rect x="1088" y="32" width="5" height="29" fill="#000"/>
<rect x="1089" y="33" width="3" height="27" fill="#fff"/>
<rect x="1098" y="14" width="1" height="34" fill="#000"/>
<rect x="1096" y="32" width="5" height="5" fill="#000"/>
<rect x="1106" y="34" width="1" height="50" fill="#000"/>
<rect x="1104" y="36" width="5" height="48" fill="#000"/>
</g>
<path d="M2 419h8v2h-8zM10 420h8v2h-8zM18 421h8v2h-8zM26 422h12v2h-12zM38 423h14v2h-14zM52 422h23v2h-23zM75 421h1v3h-1zM76 421h8v2h-8zM84 420h1v3h-1zM85 420h6v2h-6zM91 419h2v2h-2zM93 418h1v3h-1zM94 418h2v2h-2zM96 417h2v2h-2zM98 416h1v3h-1zM99 416h3v2h-3zM102 415h3v2h-3zM105 414h3v2h-3zM108 413h1v3h-1zM109 413h3v2h-3zM112 412h1v3h-1zM113 412h3v2h-3zM116 411h2v2h-2zM118 410h1v3h-1zM119 410h2v2h-2zM121 409h3v2h-3zM124 408h1v3h-1zM125 408h3v2h-3zM128 407h1v3h-1zM129 407h4v2h-4zM133 406h4v2h-4zM137 405h13v2h-13zM150 405h1v3h-1zM151 406h6v2h-6zM157 407h5v2h-5zM162 407h1v3h-1zM163 408h2v2h-2zM165 408h1v3h-1zM166 409h2v2h-2zM168 410h3v2h-3zM171 411h2v2h-2zM173 411h1v3h-1zM174 412h2v2h-2zM176 413h2v2h-2zM178 414h16v2h-16zM194 415h17v2h-17zM211 414h2v2h-2zM213 413h1v3h-1zM214 413h2v2h-2zM216 412h2v2h-2zM218 411h1v3h-1zM219 411h6v2h-6zM225 410h22v2h-22zM247 411h6v2h-6zM253 412h4v2h-4zM257 412h1v3h-1zM258 413h10v2h-10zM268 414h13v2h-13zM281 415h37v2h-37zM318 414h1v3h-1zM319 414h14v2h-14zM333 413h14v2h-14zM347 412h1v3h-1zM348 412h3v2h-3zM351 411h3v2h-3zM354 410h1v3h-1zM355 410h2v2h-2zM357 409h1v3h-1zM358 409h2v2h-2zM360 408h3v2h-3zM363 407h1v2h-1zM364 406h1v3h-1zM365 405h1v3h-1zM366 405h1v2h-1zM367 404h1v2h-1zM368 403h1v3h-1zM369 402h1v3h-1zM370 402h1v2h-1zM371 401h1v3h-1zM372 400h1v3h-1zM373 400h1v2h-1zM374 399h1v3h-1zM375 399h1v2h-1zM376 398h1v2h-1zM377 397h1v3h-1zM378 397h1v2h-1zM379 396h1v2h-1zM380 395h1v3h-1zM381 395h1v2h-1zM382 394h1v3h-1zM383 394h1v2h-1zM384 393h1v2h-1zM385 392h1v3h-1zM386 392h1v2h-1zM387 391h1v3h-1zM388 391h1v2h-1zM389 390h1v3h-1zM390 390h1v2h-1zM391 389h1v3h-1zM392 389h1v2h-1zM393 388h1v3h-1zM394 388h1v2h-1zM395 387h1v3h-1zM396 387h1v2h-1zM397 386h1v3h-1zM398 386h1v2h-1zM399 385h1v3h-1zM400 385h1v2h-1zM401 384h1v3h-1zM402 384h2v2h-2zM404 383h2v2h-2zM406 382h1v3h-1zM407 382h2v2h-2zM409 381h2v2h-2zM411 380h1v3h-1zM412 380h2v2h-2zM414 379h2v2h-2zM416 378h1v3h-1zM417 378h2v2h-2zM419 377h2v2h-2zM421 376h2v2h-2zM423 375h2v2h-2zM425 374h2v2h-2zM427 373h1v3h-1zM428 373h3v2h-3zM431 372h1v3h-1zM432 372h3v2h-3zM435 371h3v2h-3zM438 370h2v2h-2zM440 369h1v3h-1zM441 369h2v2h-2zM443 368h2v2h-2zM445 367h2v2h-2zM447 366h2v2h-2zM449 365h2v2h-2zM451 364h1v3h-1zM452 364h2v2h-2zM454 363h2v2h-2zM456 362h2v2h-2zM458 361h1v3h-1zM459 361h2v2h-2zM461 360h2v2h-2zM463 359h2v2h-2zM465 358h1v3h-1zM466 358h1v2h-1zM467 357h1v3h-1zM468 357h1v2h-1zM469 356h1v3h-1zM470 356h2v2h-2zM472 355h2v2h-2zM474 354h4v2h-4zM478 353h4v2h-4zM482 352h1v3h-1zM483 352h2v2h-2zM485 351h3v2h-3zM488 350h3v2h-3zM491 349h4v2h-4zM495 348h3v2h-3zM498 347h1v3h-1zM499 347h4v2h-4zM503 346h1v3h-1zM504 346h3v2h-3zM507 345h1v3h-1zM508 345h2v2h-2zM510 344h2v2h-2zM512 343h1v3h-1zM513 343h2v2h-2zM515 342h2v2h-2zM517 341h1v2h-1zM518 340h1v3h-1zM519 340h1v2h-1zM520 339h1v3h-1zM521 339h1v2h-1zM522 338h1v3h-1zM523 338h1v2h-1zM524 337h2v2h-2zM526 336h2v2h-2zM528 335h1v2h-1zM529 334h1v3h-1zM530 334h1v2h-1zM531 333h1v3h-1zM532 333h1v2h-1zM533 332h1v3h-1zM534 332h1v2h-1zM535 331h1v3h-1zM536 331h1v2h-1zM537 330h1v3h-1zM538 330h1v2h-1zM539 329h1v3h-1zM540 329h1v2h-1zM541 328h1v3h-1zM542 328h2v2h-2zM544 327h2v2h-2zM546 326h2v2h-2zM548 325h1v3h-1zM549 325h2v2h-2zM551 324h1v3h-1zM552 324h2v2h-2zM554 323h3v2h-3zM557 322h1v3h-1zM558 322h2v2h-2zM560 321h1v3h-1zM561 321h2v2h-2zM563 320h1v3h-1zM564 320h2v2h-2zM566 319h2v2h-2zM568 318h1v3h-1zM569 318h2v2h-2zM571 317h2v2h-2zM573 316h1v2h-1zM574 315h1v3h-1zM575 315h1v2h-1zM576 314h1v3h-1zM577 314h1v2h-1zM578 313h1v3h-1zM579 313h1v2h-1zM580 312h1v3h-1zM581 312h1v2h-1zM582 311h1v3h-1zM583 311h1v2h-1zM584 310h1v3h-1zM585 310h1v2h-1zM586 309h1v3h-1zM587 309h2v2h-2zM589 308h2v2h-2zM591 307h2v2h-2zM593 306h2v2h-2zM595 305h1v3h-1zM596 305h1v2h-1zM597 304h1v3h-1zM598 304h2v2h-2zM600 303h2v2h-2zM602 302h2v2h-2zM604 301h1v3h-1zM605 301h2v2h-2zM607 300h2v2h-2zM609 299h1v3h-1zM610 299h1v2h-1zM611 298h1v3h-1zM612 298h2v2h-2zM614 297h2v2h-2zM616 296h2v2h-2zM618 295h1v3h-1zM619 295h2v2h-2zM621 294h3v2h-3zM624 293h2v2h-2zM626 292h1v3h-1zM627 292h1v2h-1zM628 291h1v3h-1zM629 291h1v2h-1zM630 290h1v3h-1zM631 290h1v2h-1zM632 289h1v3h-1zM633 289h1v2h-1zM634 288h3v2h-3zM637 287h2v2h-2zM639 286h1v3h-1zM640 286h2v2h-2zM642 285h2v2h-2zM644 284h2v2h-2zM646 283h2v2h-2zM648 282h1v3h-1zM649 282h1v2h-1zM650 281h1v3h-1zM651 281h2v2h-2zM653 280h2v2h-2zM655 279h1v3h-1zM656 279h2v2h-2zM658 278h1v3h-1zM659 278h1v2h-1zM660 277h1v3h-1zM661 277h1v2h-1zM662 276h1v3h-1zM663 276h1v2h-1zM664 275h1v3h-1zM665 275h1v2h-1zM666 274h1v3h-1zM667 274h1v2h-1zM668 273h1v3h-1zM669 273h1v2h-1zM670 272h1v2h-1zM671 271h1v3h-1zM672 271h1v2h-1zM673 270h1v2h-1zM674 269h1v3h-1zM675 269h1v2h-1zM676 268h1v3h-1zM677 268h1v2h-1zM678 267h1v2h-1zM679 266h1v3h-1zM680 266h1v2h-1zM681 265h1v2h-1zM682 264h1v3h-1zM683 264h2v2h-2zM685 263h2v2h-2zM687 262h2v2h-2zM689 261h2v2h-2zM691 260h1v3h-1zM692 260h2v2h-2zM694 259h2v2h-2zM696 258h1v3h-1zM697 258h2v2h-2zM699 257h3v2h-3zM702 256h1v3h-1zM703 256h3v2h-3zM706 255h1v2h-1zM707 254h1v3h-1zM708 254h1v2h-1zM709 253h1v2h-1zM710 252h1v3h-1zM711 252h1v2h-1zM712 251h1v3h-1zM713 250h1v3h-1zM714 250h1v2h-1zM715 249h1v3h-1zM716 249h1v2h-1zM717 248h1v3h-1zM718 248h1v2h-1zM719 247h2v2h-2zM721 246h2v2h-2zM723 245h1v2h-1zM724 244h1v3h-1zM725 244h1v2h-1zM726 243h1v2h-1zM727 242h1v3h-1zM728 242h1v2h-1zM729 241h1v2h-1zM730 240h1v3h-1zM731 240h1v2h-1zM732 239h1v2h-1zM733 238h1v3h-1zM734 238h1v2h-1zM735 237h1v2h-1zM736 236h1v3h-1zM737 236h1v2h-1zM738 235h2v2h-2zM740 234h2v2h-2zM742 233h2v2h-2zM744 232h1v3h-1zM745 232h1v2h-1zM746 231h1v3h-1zM747 231h1v2h-1zM748 230h1v3h-1zM749 230h1v2h-1zM750 229h2v2h-2zM752 228h2v2h-2zM754 227h2v2h-2zM756 226h2v2h-2zM758 225h2v2h-2zM760 224h2v2h-2zM762 223h3v2h-3zM765 222h2v2h-2zM767 221h1v3h-1zM768 221h2v2h-2zM770 220h4v2h-4zM774 219h4v2h-4zM778 218h4v2h-4zM782 217h3v2h-3zM785 216h1v3h-1zM786 216h6v2h-6zM792 215h1v3h-1zM793 215h7v2h-7zM800 214h1v3h-1zM801 214h12v2h-12zM813 213h7v2h-7zM820 212h3v2h-3zM823 211h3v2h-3zM826 210h2v2h-2zM828 209h2v2h-2zM830 208h1v3h-1zM831 208h2v2h-2zM833 207h2v2h-2zM835 206h1v2h-1zM836 205h1v3h-1zM837 205h1v2h-1zM838 204h1v2h-1zM839 203h1v3h-1zM840 203h1v2h-1zM841 202h1v2h-1zM842 201h1v3h-1zM843 201h1v2h-1zM844 200h1v2h-1zM845 199h1v3h-1zM846 198h1v3h-1zM847 198h1v2h-1zM848 197h1v3h-1zM849 196h1v3h-1zM850 196h1v2h-1zM851 195h1v2h-1zM852 194h1v3h-1zM853 194h1v2h-1zM854 193h1v3h-1zM855 193h1v2h-1zM856 192h1v2h-1zM857 191h1v3h-1zM858 191h1v2h-1zM859 190h2v2h-2zM861 189h1v2h-1zM862 188h1v3h-1zM863 188h1v2h-1zM864 187h1v3h-1zM865 187h1v2h-1zM866 186h1v2h-1zM867 185h1v3h-1zM868 185h1v2h-1zM869 184h1v3h-1zM870 184h1v2h-1zM871 183h1v2h-1zM872 182h1v3h-1zM873 182h1v2h-1zM874 181h1v2h-1zM875 180h1v3h-1zM876 180h1v2h-1zM877 179h1v3h-1zM878 179h1v2h-1zM879 178h2v2h-2zM881 177h1v2h-1zM882 176h1v3h-1zM883 176h1v2h-1zM884 175h2v2h-2zM886 174h1v2h-1zM887 173h1v3h-1zM888 173h1v2h-1zM889 172h2v2h-2zM891 171h2v2h-2zM893 170h2v2h-2zM895 169h2v2h-2zM897 168h2v2h-2zM899 167h3v2h-3zM902 166h2v2h-2zM904 165h1v3h-1zM905 165h2v2h-2zM907 164h3v2h-3zM910 163h2v2h-2zM912 162h1v3h-1zM913 162h2v2h-2zM915 161h2v2h-2zM917 160h2v2h-2zM919 159h2v2h-2zM921 158h1v3h-1zM922 158h2v2h-2zM924 157h2v2h-2zM926 156h1v3h-1zM927 156h2v2h-2zM929 155h3v2h-3zM932 154h1v3h-1zM933 154h3v2h-3zM936 153h1v3h-1zM937 153h4v2h-4zM941 152h5v2h-5zM946 151h1v3h-1zM947 151h2v2h-2zM949 150h2v2h-2zM951 149h2v2h-2zM953 148h1v3h-1zM954 148h2v2h-2zM956 147h2v2h-2zM958 146h1v3h-1zM959 146h2v2h-2zM961 145h4v2h-4zM965 144h5v2h-5zM970 143h8v2h-8zM978 142h4v2h-4zM982 141h3v2h-3zM985 140h1v3h-1zM986 140h4v2h-4zM990 139h4v2h-4zM994 138h4v2h-4zM998 137h3v2h-3zM1001 136h1v3h-1zM1002 136h3v2h-3zM1005 135h1v3h-1zM1006 135h3v2h-3zM1009 134h1v3h-1zM1010 134h3v2h-3zM1013 133h2v2h-2zM1015 132h1v3h-1zM1016 132h2v2h-2zM1018 131h1v3h-1zM1019 131h1v2h-1zM1020 130h1v2h-1zM1021 129h1v3h-1zM1022 129h1v2h-1zM1023 128h1v2h-1zM1024 127h1v3h-1zM1025 127h1v2h-1zM1026 126h1v2h-1zM1027 125h1v3h-1zM1028 125h1v2h-1zM1029 124h1v3h-1zM1030 124h1v2h-1zM1031 123h1v2h-1zM1032 122h1v3h-1zM1033 122h1v2h-1zM1034 121h1v2h-1zM1035 120h1v3h-1zM1036 120h1v2h-1zM1037 119h1v2h-1zM1038 118h1v3h-1zM1039 117h1v3h-1zM1040 117h1v2h-1zM1041 116h1v2h-1zM1042 115h1v3h-1zM1043 115h1v2h-1zM1044 114h1v3h-1zM1045 114h1v2h-1zM1046 113h1v3h-1zM1047 113h1v2h-1zM1048 112h1v3h-1zM1049 112h1v2h-1zM1050 111h2v2h-2zM1052 110h1v3h-1zM1053 110h1v2h-1zM1054 109h1v3h-1zM1055 109h2v2h-2zM1057 108h2v2h-2zM1059 107h2v2h-2zM1061 106h2v2h-2zM1063 105h1v3h-1zM1064 105h1v2h-1zM1065 104h1v3h-1zM1066 104h2v2h-2zM1068 103h2v2h-2zM1070 102h2v2h-2zM1072 101h2v2h-2zM1074 100h2v2h-2zM1076 99h2v2h-2zM1078 98h2v2h-2zM1080 97h1v3h-1zM1081 97h1v2h-1zM1082 96h1v3h-1zM1083 96h2v2h-2zM1085 95h2v2h-2zM1087 94h2v2h-2zM1089 93h1v3h-1zM1090 93h1v2h-1zM1091 92h1v3h-1zM1092 92h1v2h-1zM1093 91h1v3h-1zM1094 91h2v2h-2zM1096 90h2v2h-2zM1098 89h2v2h-2zM1100 88h2v2h-2zM1102 87h1v3h-1zM1103 87h2v2h-2zM1105 86h4v2h-4zM1109 85h6v2h-6zM1115 84h2v2h-2zM1117 83h1v3h-1zM1118 83h2v2h-2zM1120 82h2v2h-2zM1122 81h1v3h-1zM1123 81h3v2h-3zM1126 80h3v2h-3zM1129 79h3v2h-3zM1132 78h1v3h-1zM1133 78h3v2h-3zM1136 77h1v3h-1zM1137 77h4v2h-4zM1141 76h4v2h-4zM1145 75h5v2h-5zM1150 74h4v2h-4zM1154 73h1v3h-1zM1155 73h1v2h-1zM1156 72h1v3h-1zM1157 72h1v2h-1zM1158 71h2v2h-2zM1160 70h1v2h-1zM1161 69h1v3h-1zM1162 69h9v2h-9z" fill="#0030d8" shape-rendering="crispEdges"/>
<path d="M2 428h8v2h-8zM10 427h1v3h-1zM11 427h29v2h-29zM40 426h11v2h-11zM51 425h1v3h-1zM52 425h1v2h-1zM53 424h1v3h-1zM54 424h1v2h-1zM55 423h1v3h-1zM56 423h1v2h-1zM57 422h1v3h-1zM58 422h2v2h-2zM60 421h3v2h-3zM63 420h1v3h-1zM64 420h3v2h-3zM67 419h2v2h-2zM69 418h1v3h-1zM70 418h2v2h-2zM72 417h2v2h-2zM74 416h1v3h-1zM75 416h1v2h-1zM76 415h1v3h-1zM77 415h2v2h-2zM79 414h2v2h-2zM81 413h2v2h-2zM83 412h2v2h-2zM85 411h1v2h-1zM86 410h1v3h-1zM87 410h1v2h-1zM88 409h1v3h-1zM89 409h1v2h-1zM90 408h1v3h-1zM91 408h1v2h-1zM92 407h2v2h-2zM94 406h2v2h-2zM96 405h1v2h-1zM97 404h1v3h-1zM98 404h7v2h-7zM105 403h4v2h-4zM109 402h2v2h-2zM111 401h1v3h-1zM112 401h2v2h-2zM114 400h12v2h-12zM126 401h4v2h-4zM130 401h1v3h-1zM131 402h1v2h-1zM132 402h1v3h-1zM133 403h1v2h-1zM134 404h2v2h-2zM136 405h1v2h-1zM137 405h1v3h-1zM138 406h1v2h-1zM139 406h1v3h-1zM140 407h2v2h-2zM142 408h2v2h-2zM144 409h2v2h-2zM146 409h1v3h-1zM147 410h1v2h-1zM148 411h1v2h-1zM149 411h1v3h-1zM150 412h1v2h-1zM151 413h1v2h-1zM152 413h1v3h-1zM153 414h1v2h-1zM154 415h6v2h-6zM160 416h24v2h-24zM184 415h3v2h-3zM187 414h1v3h-1zM188 414h1v2h-1zM189 413h1v2h-1zM190 412h1v3h-1zM191 412h1v2h-1zM192 411h1v3h-1zM193 410h1v3h-1zM194 410h10v2h-10zM204 409h17v2h-17zM221 410h7v2h-7zM228 410h1v3h-1zM229 411h3v2h-3zM232 411h1v3h-1zM233 412h2v2h-2zM235 412h1v3h-1zM236 413h1v2h-1zM237 413h1v3h-1zM238 414h1v2h-1zM239 414h1v3h-1zM240 415h1v2h-1zM241 415h1v3h-1zM242 416h40v2h-40zM282 416h1v3h-1zM283 416h10v2h-10zM293 415h6v2h-6zM299 414h3v2h-3zM302 413h3v2h-3zM305 412h17v2h-17zM322 411h1v3h-1zM323 411h1v2h-1zM324 410h1v3h-1zM325 410h2v2h-2zM327 409h2v2h-2zM329 408h2v2h-2zM331 407h2v2h-2zM333 406h1v3h-1zM334 406h2v2h-2zM336 405h2v2h-2zM338 404h1v3h-1zM339 402h1v4h-1zM340 401h1v4h-1zM341 400h1v3h-1zM342 398h1v4h-1zM343 397h1v3h-1zM344 395h1v4h-1zM345 394h1v4h-1zM346 393h1v3h-1zM347 392h1v3h-1zM348 392h1v2h-1zM349 391h1v3h-1zM350 390h1v3h-1zM351 390h1v2h-1zM352 389h1v2h-1zM353 388h1v3h-1zM354 387h1v3h-1zM355 387h1v2h-1zM356 386h1v2h-1zM357 385h1v2h-1zM358 384h1v3h-1zM359 383h1v3h-1zM360 382h1v3h-1zM361 381h1v3h-1zM362 381h1v2h-1zM363 380h1v2h-1zM364 379h1v3h-1zM365 378h1v3h-1zM366 377h1v3h-1zM367 377h1v2h-1zM368 376h1v2h-1zM369 375h1v3h-1zM370 374h1v3h-1zM371 374h1v2h-1zM372 373h1v3h-1zM373 373h1v2h-1zM374 372h1v3h-1zM375 372h1v2h-1zM376 371h2v2h-2zM378 370h2v2h-2zM380 369h2v2h-2zM382 368h2v2h-2zM384 367h1v3h-1zM385 367h1v2h-1zM386 366h1v3h-1zM387 366h2v2h-2zM389 365h2v2h-2zM391 364h1v3h-1zM392 364h2v2h-2zM394 363h1v3h-1zM395 363h1v2h-1zM396 362h2v2h-2zM398 361h2v2h-2zM400 360h1v2h-1zM401 359h1v3h-1zM402 359h4v2h-4zM406 358h5v2h-5zM411 357h2v2h-2zM413 356h1v2h-1zM414 355h1v3h-1zM415 355h1v2h-1zM416 354h1v3h-1zM417 354h1v2h-1zM418 353h3v2h-3zM421 352h3v2h-3zM424 351h2v2h-2zM426 350h1v3h-1zM427 350h2v2h-2zM429 349h1v3h-1zM430 349h2v2h-2zM432 348h3v2h-3zM435 347h1v2h-1zM436 346h1v3h-1zM437 346h1v2h-1zM438 345h1v2h-1zM439 344h1v3h-1zM440 344h1v2h-1zM441 343h1v2h-1zM442 342h1v3h-1zM443 342h2v2h-2zM445 341h3v2h-3zM448 340h3v2h-3zM451 339h3v2h-3zM454 338h3v2h-3zM457 337h3v2h-3zM460 336h2v2h-2zM462 335h1v3h-1zM463 335h2v2h-2zM465 334h8v2h-8zM473 333h5v2h-5zM478 332h4v2h-4zM482 331h1v3h-1zM483 331h2v2h-2zM485 330h2v2h-2zM487 329h1v3h-1zM488 329h2v2h-2zM490 328h1v3h-1zM491 328h1v2h-1zM492 327h1v3h-1zM493 327h1v2h-1zM494 326h1v3h-1zM495 326h1v2h-1zM496 325h1v3h-1zM497 325h1v2h-1zM498 324h1v3h-1zM499 324h1v2h-1zM500 323h1v2h-1zM501 322h1v3h-1zM502 322h1v2h-1zM503 321h1v2h-1zM504 320h1v3h-1zM505 319h1v3h-1zM506 319h1v2h-1zM507 318h1v3h-1zM508 318h1v2h-1zM509 317h1v2h-1zM510 316h1v3h-1zM511 316h1v2h-1zM512 315h1v3h-1zM513 315h1v2h-1zM514 314h2v2h-2zM516 313h2v2h-2zM518 312h2v2h-2zM520 311h1v3h-1zM521 311h1v2h-1zM522 310h1v3h-1zM523 310h1v2h-1zM524 309h1v3h-1zM525 309h2v2h-2zM527 308h2v2h-2zM529 307h2v2h-2zM531 306h3v2h-3zM534 305h2v2h-2zM536 304h1v3h-1zM537 304h2v2h-2zM539 303h3v2h-3zM542 302h3v2h-3zM545 301h2v2h-2zM547 300h2v2h-2zM549 299h1v2h-1zM550 298h1v3h-1zM551 298h1v2h-1zM552 297h1v3h-1zM553 297h1v2h-1zM554 296h2v2h-2zM556 295h2v2h-2zM558 294h1v2h-1zM559 293h1v3h-1zM560 293h1v2h-1zM561 292h1v3h-1zM562 292h1v2h-1zM563 291h1v3h-1zM564 291h1v2h-1zM565 290h1v3h-1zM566 290h1v2h-1zM567 289h1v3h-1zM568 289h1v2h-1zM569 288h1v3h-1zM570 288h2v2h-2zM572 287h3v2h-3zM575 286h3v2h-3zM578 285h2v2h-2zM580 284h1v3h-1zM581 284h2v2h-2zM583 283h2v2h-2zM585 282h3v2h-3zM588 281h2v2h-2zM590 280h1v3h-1zM591 280h2v2h-2zM593 279h2v2h-2zM595 278h1v3h-1zM596 278h1v2h-1zM597 277h1v3h-1zM598 277h2v2h-2zM600 276h2v2h-2zM602 275h2v2h-2zM604 274h2v2h-2zM606 273h2v2h-2zM608 272h1v3h-1zM609 272h1v2h-1zM610 271h1v3h-1zM611 271h1v2h-1zM612 270h1v3h-1zM613 270h1v2h-1zM614 269h1v3h-1zM615 269h1v2h-1zM616 268h1v3h-1zM617 268h1v2h-1zM618 267h1v3h-1zM619 267h1v2h-1zM620 266h1v3h-1zM621 266h1v2h-1zM622 265h1v3h-1zM623 265h1v2h-1zM624 264h1v3h-1zM625 264h1v2h-1zM626 263h3v2h-3zM629 262h2v2h-2zM631 261h1v3h-1zM632 261h2v2h-2zM634 260h3v2h-3zM637 259h3v2h-3zM640 258h2v2h-2zM642 257h1v3h-1zM643 257h1v2h-1zM644 256h1v2h-1zM645 255h1v3h-1zM646 254h1v3h-1zM647 253h1v3h-1zM648 253h1v2h-1zM649 252h1v2h-1zM650 251h1v3h-1zM651 250h1v3h-1zM652 249h1v3h-1zM653 248h1v3h-1zM654 248h1v2h-1zM655 247h1v2h-1zM656 246h1v3h-1zM657 245h1v3h-1zM658 244h1v3h-1zM659 244h1v2h-1zM660 243h1v3h-1zM661 243h1v2h-1zM662 242h1v3h-1zM663 242h1v2h-1zM664 241h2v2h-2zM666 240h9v2h-9zM675 239h2v2h-2zM677 238h1v3h-1zM678 238h2v2h-2zM680 237h2v2h-2zM682 236h1v3h-1zM683 236h1v2h-1zM684 235h1v2h-1zM685 234h1v3h-1zM686 233h1v3h-1zM687 233h1v2h-1zM688 232h1v3h-1zM689 231h1v3h-1zM690 231h1v2h-1zM691 230h1v2h-1zM692 229h1v3h-1zM693 229h1v2h-1zM694 228h1v2h-1zM695 227h1v3h-1zM696 226h1v3h-1zM697 226h1v2h-1zM698 225h1v2h-1zM699 224h1v3h-1zM700 224h1v2h-1zM701 223h1v3h-1zM702 223h1v2h-1zM703 222h1v2h-1zM704 221h1v3h-1zM705 221h1v2h-1zM706 220h2v2h-2zM708 219h1v2h-1zM709 218h1v3h-1zM710 218h1v2h-1zM711 217h1v3h-1zM712 217h1v2h-1zM713 216h1v3h-1zM714 216h1v2h-1zM715 215h1v2h-1zM716 214h1v3h-1zM717 214h1v2h-1zM718 213h1v2h-1zM719 212h1v3h-1zM720 211h1v3h-1zM721 211h1v2h-1zM722 210h2v2h-2zM724 209h2v2h-2zM726 208h2v2h-2zM728 207h2v2h-2zM730 206h2v2h-2zM732 205h1v3h-1zM733 205h2v2h-2zM735 204h1v3h-1zM736 204h2v2h-2zM738 203h3v2h-3zM741 202h1v3h-1zM742 202h2v2h-2zM744 201h1v3h-1zM745 201h3v2h-3zM748 200h5v2h-5zM753 199h21v2h-21zM774 199h1v3h-1zM775 200h19v2h-19zM794 200h1v3h-1zM795 200h4v2h-4zM799 199h4v2h-4zM803 198h1v2h-1zM804 197h1v3h-1zM805 197h1v2h-1zM806 196h1v3h-1zM807 196h1v2h-1zM808 195h1v2h-1zM809 194h1v3h-1zM810 194h1v2h-1zM811 193h1v2h-1zM812 192h1v3h-1zM813 191h1v3h-1zM814 190h1v3h-1zM815 189h1v3h-1zM816 188h1v3h-1zM817 188h1v2h-1zM818 187h1v2h-1zM819 186h1v2h-1zM820 185h1v3h-1zM821 184h1v3h-1zM822 183h1v3h-1zM823 182h1v3h-1zM824 181h1v3h-1zM825 180h1v3h-1zM826 179h1v3h-1zM827 178h1v3h-1zM828 177h1v3h-1zM829 177h1v2h-1zM830 176h1v2h-1zM831 175h1v2h-1zM832 174h1v3h-1zM833 173h1v3h-1zM834 172h1v3h-1zM835 171h1v3h-1zM836 171h1v2h-1zM837 170h1v2h-1zM838 169h1v3h-1zM839 168h1v3h-1zM840 167h1v3h-1zM841 167h1v2h-1zM842 166h1v2h-1zM843 165h1v3h-1zM844 164h1v3h-1zM845 164h1v2h-1zM846 163h1v2h-1zM847 162h1v3h-1zM848 161h1v3h-1zM849 161h1v2h-1zM850 160h1v2h-1zM851 159h1v3h-1zM852 159h1v2h-1zM853 158h1v3h-1zM854 158h1v2h-1zM855 157h1v2h-1zM856 156h1v3h-1zM857 156h1v2h-1zM858 155h2v2h-2zM860 154h2v2h-2zM862 153h2v2h-2zM864 152h2v2h-2zM866 151h2v2h-2zM868 150h2v2h-2zM870 149h2v2h-2zM872 148h1v3h-1zM873 148h1v2h-1zM874 147h1v3h-1zM875 147h2v2h-2zM877 146h3v2h-3zM880 145h3v2h-3zM883 144h4v2h-4zM887 143h4v2h-4zM891 142h3v2h-3zM894 141h1v3h-1zM895 141h3v2h-3zM898 140h3v2h-3zM901 139h3v2h-3zM904 138h4v2h-4zM908 137h6v2h-6zM914 136h1v3h-1zM915 136h3v2h-3zM918 135h3v2h-3zM921 134h1v3h-1zM922 134h3v2h-3zM925 133h4v2h-4zM929 132h4v2h-4zM933 131h4v2h-4zM937 130h6v2h-6zM943 129h7v2h-7zM950 128h1v3h-1zM951 128h6v2h-6zM957 127h4v2h-4zM961 126h9v2h-9zM970 125h1v3h-1zM971 125h3v2h-3zM974 124h3v2h-3zM977 123h9v2h-9zM986 122h1v3h-1zM987 122h1v2h-1zM988 121h1v3h-1zM989 121h1v2h-1zM990 120h1v3h-1zM991 120h1v2h-1zM992 119h1v3h-1zM993 119h1v2h-1zM994 118h1v3h-1zM995 118h1v2h-1zM996 117h1v2h-1zM997 116h1v3h-1zM998 116h1v2h-1zM999 115h1v2h-1zM1000 114h1v3h-1zM1001 113h1v3h-1zM1002 113h1v2h-1zM1003 112h1v2h-1zM1004 111h1v2h-1zM1005 110h1v2h-1zM1006 109h1v3h-1zM1007 108h1v3h-1zM1008 107h1v3h-1zM1009 106h1v3h-1zM1010 105h1v3h-1zM1011 104h1v3h-1zM1012 103h1v3h-1zM1013 102h1v3h-1zM1014 101h1v3h-1zM1015 101h1v2h-1zM1016 100h1v2h-1zM1017 99h1v2h-1zM1018 98h1v2h-1zM1019 97h1v3h-1zM1020 97h1v2h-1zM1021 96h1v3h-1zM1022 96h1v2h-1zM1023 95h1v2h-1zM1024 94h1v3h-1zM1025 94h1v2h-1zM1026 93h3v2h-3zM1029 92h1v3h-1zM1030 92h2v2h-2zM1032 91h1v3h-1zM1033 91h2v2h-2zM1035 90h1v3h-1zM1036 90h1v2h-1zM1037 89h1v3h-1zM1038 89h1v2h-1zM1039 88h1v3h-1zM1040 88h1v2h-1zM1041 87h1v3h-1zM1042 87h1v2h-1zM1043 86h1v3h-1zM1044 86h1v2h-1zM1045 85h1v3h-1zM1046 85h1v2h-1zM1047 84h2v2h-2zM1049 83h2v2h-2zM1051 82h2v2h-2zM1053 81h2v2h-2zM1055 80h2v2h-2zM1057 79h1v2h-1zM1058 78h1v3h-1zM1059 78h1v2h-1zM1060 77h1v3h-1zM1061 77h1v2h-1zM1062 76h1v3h-1zM1063 76h1v2h-1zM1064 75h1v3h-1zM1065 75h1v2h-1zM1066 74h1v3h-1zM1067 74h3v2h-3zM1070 73h3v2h-3zM1073 72h3v2h-3zM1076 71h3v2h-3zM1079 70h3v2h-3zM1082 69h3v2h-3zM1085 68h4v2h-4zM1089 67h3v2h-3zM1092 66h1v3h-1zM1093 66h3v2h-3zM1096 65h1v3h-1zM1097 65h3v2h-3zM1100 64h1v3h-1zM1101 64h3v2h-3zM1104 63h1v3h-1zM1105 63h4v2h-4zM1109 62h4v2h-4zM1113 61h11v2h-11zM1124 60h4v2h-4zM1128 59h1v3h-1zM1129 59h2v2h-2zM1131 58h1v3h-1zM1132 58h1v2h-1zM1133 57h1v3h-1zM1134 57h1v2h-1zM1135 56h1v3h-1zM1136 56h1v2h-1zM1137 55h1v3h-1zM1138 55h9v2h-9z" fill="#ff0000" shape-rendering="crispEdges"/>
<path d="M2 431h3v2h-3zM5 430h5v2h-5zM10 429h1v3h-1zM11 429h3v2h-3zM14 428h1v3h-1zM15 428h3v2h-3zM18 427h1v3h-1zM19 427h5v2h-5zM24 426h4v2h-4zM28 425h1v3h-1zM29 425h3v2h-3zM32 424h1v3h-1zM33 424h2v2h-2zM35 423h1v3h-1zM36 423h2v2h-2zM38 422h2v2h-2zM40 421h2v2h-2zM42 420h1v3h-1zM43 420h1v2h-1zM44 419h1v3h-1zM45 419h1v2h-1zM46 418h1v3h-1zM47 418h1v2h-1zM48 417h1v3h-1zM49 417h1v2h-1zM50 416h1v3h-1zM51 416h1v2h-1zM52 415h1v2h-1zM53 414h1v3h-1zM54 414h1v2h-1zM55 413h1v3h-1zM56 413h1v2h-1zM57 412h1v2h-1zM58 411h1v3h-1zM59 411h1v2h-1zM60 410h1v2h-1zM61 409h1v3h-1zM62 409h1v2h-1zM63 408h1v3h-1zM64 408h1v2h-1zM65 407h1v2h-1zM66 406h1v3h-1zM67 406h1v2h-1zM68 405h1v2h-1zM69 404h1v3h-1zM70 404h1v2h-1zM71 403h1v2h-1zM72 402h1v3h-1zM73 401h1v3h-1zM74 401h1v2h-1zM75 400h1v3h-1zM76 399h1v3h-1zM77 399h1v2h-1zM78 398h1v2h-1zM79 397h1v3h-1zM80 397h1v2h-1zM81 396h1v2h-1zM82 395h10v2h-10zM92 394h1v3h-1zM93 394h2v2h-2zM95 393h2v2h-2zM97 392h9v2h-9zM106 391h1v3h-1zM107 392h1v2h-1zM108 393h1v2h-1zM109 393h1v3h-1zM110 394h1v2h-1zM111 394h1v3h-1zM112 395h1v2h-1zM113 396h1v2h-1zM114 396h1v3h-1zM115 397h1v3h-1zM116 398h1v3h-1zM117 399h1v3h-1zM118 400h1v3h-1zM119 401h1v3h-1zM120 402h1v2h-1zM121 403h1v2h-1zM122 404h1v2h-1zM123 405h1v2h-1zM124 406h1v2h-1zM125 407h1v2h-1zM126 408h1v2h-1zM127 409h1v2h-1zM128 410h1v2h-1zM129 411h1v2h-1zM130 412h1v2h-1zM131 413h1v2h-1zM132 413h1v3h-1zM133 414h1v3h-1zM134 415h1v2h-1zM135 416h1v2h-1zM136 417h1v2h-1zM137 417h1v3h-1zM138 418h1v2h-1zM139 419h3v2h-3zM142 420h3v2h-3zM145 421h6v2h-6zM151 420h14v2h-14zM165 419h3v2h-3zM168 418h2v2h-2zM170 417h1v3h-1zM171 416h1v3h-1zM172 415h1v3h-1zM173 414h1v3h-1zM174 413h1v3h-1zM175 411h1v3h-1zM176 410h1v3h-1zM177 409h1v3h-1zM178 408h25v2h-25zM203 409h4v2h-4zM207 410h5v2h-5zM212 411h4v2h-4zM216 412h3v2h-3zM219 412h1v3h-1zM220 413h1v3h-1zM221 414h1v2h-1zM222 415h1v2h-1zM223 415h1v3h-1zM224 416h1v2h-1zM225 417h1v2h-1zM226 417h1v3h-1zM227 418h6v2h-6zM233 419h13v2h-13zM246 418h1v3h-1zM247 418h22v2h-22zM269 417h7v2h-7zM276 416h2v2h-2zM278 415h1v3h-1zM279 415h2v2h-2zM281 414h3v2h-3zM284 413h3v2h-3zM287 412h3v2h-3zM290 411h1v3h-1zM291 411h8v2h-8zM299 410h7v2h-7zM306 409h1v3h-1zM307 409h2v2h-2zM309 408h2v2h-2zM311 407h2v2h-2zM313 406h2v2h-2zM315 405h1v2h-1zM316 404h1v3h-1zM317 404h1v2h-1zM318 403h1v2h-1zM319 402h1v3h-1zM320 401h1v3h-1zM321 401h1v2h-1zM322 399h1v5h-1zM323 397h1v4h-1zM324 395h1v4h-1zM325 393h1v4h-1zM326 391h1v4h-1zM327 389h1v4h-1zM328 387h1v4h-1zM329 385h1v4h-1zM330 384h1v2h-1zM331 382h1v3h-1zM332 381h1v3h-1zM333 380h1v3h-1zM334 379h1v3h-1zM335 378h1v3h-1zM336 377h1v3h-1zM337 376h1v3h-1zM338 375h1v3h-1zM339 374h1v3h-1zM340 372h1v3h-1zM341 371h1v3h-1zM342 370h1v3h-1zM343 369h1v3h-1zM344 368h1v3h-1zM345 367h1v3h-1zM346 366h1v2h-1zM347 365h1v2h-1zM348 364h1v3h-1zM349 363h1v3h-1zM350 362h1v3h-1zM351 362h1v2h-1zM352 361h1v2h-1zM353 360h1v3h-1zM354 359h1v3h-1zM355 359h1v2h-1zM356 358h1v3h-1zM357 358h1v2h-1zM358 357h1v3h-1zM359 357h1v2h-1zM360 356h2v2h-2zM362 355h2v2h-2zM364 354h1v3h-1zM365 354h2v2h-2zM367 353h2v2h-2zM369 352h3v2h-3zM372 351h3v2h-3zM375 350h1v3h-1zM376 350h3v2h-3zM379 349h4v2h-4zM383 348h3v2h-3zM386 347h1v3h-1zM387 347h8v2h-8zM395 346h1v2h-1zM396 345h1v3h-1zM397 345h1v2h-1zM398 344h1v3h-1zM399 344h1v2h-1zM400 343h1v2h-1zM401 342h1v3h-1zM402 342h2v2h-2zM404 341h2v2h-2zM406 340h1v3h-1zM407 340h2v2h-2zM409 339h3v2h-3zM412 338h3v2h-3zM415 337h3v2h-3zM418 336h1v3h-1zM419 336h1v2h-1zM420 335h1v2h-1zM421 334h1v3h-1zM422 334h1v2h-1zM423 333h1v3h-1zM424 333h1v2h-1zM425 332h1v2h-1zM426 331h1v3h-1zM427 331h2v2h-2zM429 330h2v2h-2zM431 329h2v2h-2zM433 328h1v3h-1zM434 328h9v2h-9zM443 327h3v2h-3zM446 326h3v2h-3zM449 325h12v2h-12zM461 324h5v2h-5zM466 323h3v2h-3zM469 322h2v2h-2zM471 321h1v3h-1zM472 321h2v2h-2zM474 320h1v2h-1zM475 319h1v3h-1zM476 319h1v2h-1zM477 318h1v3h-1zM478 318h1v2h-1zM479 317h1v2h-1zM480 316h1v3h-1zM481 316h1v2h-1zM482 315h1v3h-1zM483 314h1v3h-1zM484 313h1v3h-1zM485 313h1v2h-1zM486 312h1v2h-1zM487 311h1v3h-1zM488 310h1v3h-1zM489 310h1v2h-1zM490 309h1v2h-1zM491 308h1v3h-1zM492 307h1v3h-1zM493 307h1v2h-1zM494 306h1v2h-1zM495 305h1v3h-1zM496 305h1v2h-1zM497 304h1v2h-1zM498 303h1v3h-1zM499 303h1v2h-1zM500 302h2v2h-2zM502 301h2v2h-2zM504 300h1v2h-1zM505 299h1v3h-1zM506 299h1v2h-1zM507 298h1v3h-1zM508 298h1v2h-1zM509 297h1v3h-1zM510 297h2v2h-2zM512 296h2v2h-2zM514 295h5v2h-5zM519 294h5v2h-5zM524 293h2v2h-2zM526 292h1v3h-1zM527 292h2v2h-2zM529 291h2v2h-2zM531 290h1v3h-1zM532 290h1v2h-1zM533 289h2v2h-2zM535 288h2v2h-2zM537 287h2v2h-2zM539 286h1v2h-1zM540 285h1v3h-1zM541 285h1v2h-1zM542 284h1v2h-1zM543 283h1v3h-1zM544 283h1v2h-1zM545 282h1v3h-1zM546 282h1v2h-1zM547 281h2v2h-2zM549 280h1v2h-1zM550 279h1v3h-1zM551 279h1v2h-1zM552 278h1v3h-1zM553 278h1v2h-1zM554 277h1v3h-1zM555 277h4v2h-4zM559 276h1v3h-1zM560 276h3v2h-3zM563 275h2v2h-2zM565 274h2v2h-2zM567 273h1v2h-1zM568 272h1v3h-1zM569 272h1v2h-1zM570 271h1v3h-1zM571 271h2v2h-2zM573 270h2v2h-2zM575 269h1v3h-1zM576 269h2v2h-2zM578 268h1v3h-1zM579 268h1v2h-1zM580 267h2v2h-2zM582 266h2v2h-2zM584 265h2v2h-2zM586 264h2v2h-2zM588 263h2v2h-2zM590 262h2v2h-2zM592 261h2v2h-2zM594 260h2v2h-2zM596 259h1v3h-1zM597 259h2v2h-2zM599 258h2v2h-2zM601 257h2v2h-2zM603 256h1v3h-1zM604 256h1v2h-1zM605 255h1v2h-1zM606 254h1v3h-1zM607 254h1v2h-1zM608 253h1v2h-1zM609 252h1v3h-1zM610 252h3v2h-3zM613 251h4v2h-4zM617 250h3v2h-3zM620 249h2v2h-2zM622 248h2v2h-2zM624 247h1v3h-1zM625 247h1v2h-1zM626 246h1v3h-1zM627 245h1v3h-1zM628 245h1v2h-1zM629 244h1v2h-1zM630 243h1v3h-1zM631 242h1v3h-1zM632 242h1v2h-1zM633 241h1v2h-1zM634 240h1v3h-1zM635 239h1v3h-1zM636 237h1v4h-1zM637 236h1v3h-1zM638 235h1v3h-1zM639 234h1v3h-1zM640 233h1v3h-1zM641 232h1v3h-1zM642 231h2v2h-2zM644 230h2v2h-2zM646 229h1v2h-1zM647 228h1v3h-1zM648 228h1v2h-1zM649 227h1v3h-1zM650 227h12v2h-12zM662 226h5v2h-5zM667 225h1v2h-1zM668 224h1v3h-1zM669 223h1v3h-1zM670 223h1v2h-1zM671 222h1v2h-1zM672 221h1v3h-1zM673 220h1v3h-1zM674 220h1v2h-1zM675 219h1v2h-1zM676 218h1v3h-1zM677 217h1v3h-1zM678 216h1v3h-1zM679 216h1v2h-1zM680 215h1v2h-1zM681 214h1v3h-1zM682 213h1v3h-1zM683 212h1v3h-1zM684 212h1v2h-1zM685 211h1v2h-1zM686 210h1v2h-1zM687 209h1v3h-1zM688 208h1v3h-1zM689 208h1v2h-1zM690 207h1v2h-1zM691 206h1v3h-1zM692 205h1v3h-1zM693 205h1v2h-1zM694 204h1v2h-1zM695 203h1v3h-1zM696 203h1v2h-1zM697 202h1v2h-1zM698 201h1v3h-1zM699 201h1v2h-1zM700 200h1v2h-1zM701 199h1v3h-1zM702 199h1v2h-1zM703 198h1v3h-1zM704 198h1v2h-1zM705 197h1v2h-1zM706 196h1v3h-1zM707 196h2v2h-2zM709 195h2v2h-2zM711 194h1v3h-1zM712 194h2v2h-2zM714 193h4v2h-4zM718 192h4v2h-4zM722 191h1v3h-1zM723 191h3v2h-3zM726 190h3v2h-3zM729 189h1v3h-1zM730 189h11v2h-11zM741 190h5v2h-5zM746 190h1v3h-1zM747 191h3v2h-3zM750 191h1v3h-1zM751 192h3v2h-3zM754 192h1v3h-1zM755 193h7v2h-7zM762 193h1v3h-1zM763 194h2v2h-2zM765 195h2v2h-2zM767 195h1v3h-1zM768 196h2v2h-2zM770 197h3v2h-3zM773 197h1v3h-1zM774 198h3v2h-3zM777 198h1v3h-1zM778 199h1v2h-1zM779 198h3v2h-3zM782 197h3v2h-3zM785 196h1v2h-1zM786 195h1v3h-1zM787 194h1v3h-1zM788 193h1v3h-1zM789 192h1v3h-1zM790 191h1v3h-1zM791 190h1v3h-1zM792 189h1v3h-1zM793 188h1v3h-1zM794 186h1v4h-1zM795 185h1v3h-1zM796 184h1v3h-1zM797 183h1v3h-1zM798 182h1v3h-1zM799 181h1v3h-1zM800 180h1v3h-1zM801 178h1v3h-1zM802 177h1v3h-1zM803 176h1v3h-1zM804 175h1v3h-1zM805 174h1v3h-1zM806 173h1v3h-1zM807 171h1v3h-1zM808 170h1v3h-1zM809 169h1v3h-1zM810 168h1v3h-1zM811 167h1v3h-1zM812 166h1v3h-1zM813 165h1v3h-1zM814 164h1v3h-1zM815 163h1v3h-1zM816 162h1v3h-1zM817 161h1v3h-1zM818 160h1v3h-1zM819 159h1v3h-1zM820 158h1v3h-1zM821 157h1v3h-1zM822 156h1v3h-1zM823 155h1v3h-1zM824 154h1v3h-1zM825 153h1v3h-1zM826 153h1v2h-1zM827 152h1v2h-1zM828 151h1v3h-1zM829 150h1v3h-1zM830 150h1v2h-1zM831 149h1v2h-1zM832 148h1v3h-1zM833 147h1v3h-1zM834 147h1v2h-1zM835 146h1v3h-1zM836 145h1v3h-1zM837 145h1v2h-1zM838 144h1v3h-1zM839 144h1v2h-1zM840 143h1v2h-1zM841 142h1v3h-1zM842 142h1v2h-1zM843 141h1v2h-1zM844 140h1v3h-1zM845 139h1v3h-1zM846 139h1v2h-1zM847 138h1v3h-1zM848 137h1v3h-1zM849 137h1v2h-1zM850 136h2v2h-2zM852 135h1v3h-1zM853 135h2v2h-2zM855 134h2v2h-2zM857 133h4v2h-4zM861 132h5v2h-5zM866 131h1v3h-1zM867 131h6v2h-6zM873 130h6v2h-6zM879 129h6v2h-6zM885 128h5v2h-5zM890 127h1v3h-1zM891 127h12v2h-12zM903 126h12v2h-12zM915 125h2v2h-2zM917 124h2v2h-2zM919 123h2v2h-2zM921 122h1v3h-1zM922 122h24v2h-24zM946 121h1v3h-1zM947 121h3v2h-3zM950 120h3v2h-3zM953 119h8v2h-8zM961 118h9v2h-9zM970 117h1v3h-1zM971 117h1v2h-1zM972 116h1v2h-1zM973 115h1v3h-1zM974 115h1v2h-1zM975 114h1v2h-1zM976 113h1v3h-1zM977 113h1v2h-1zM978 112h1v3h-1zM979 111h1v3h-1zM980 110h1v3h-1zM981 109h1v3h-1zM982 108h1v3h-1zM983 107h1v3h-1zM984 106h1v3h-1zM985 105h1v3h-1zM986 104h1v3h-1zM987 102h1v4h-1zM988 101h1v3h-1zM989 100h1v3h-1zM990 99h1v3h-1zM991 97h1v4h-1zM992 96h1v3h-1zM993 95h1v3h-1zM994 94h1v3h-1zM995 93h1v3h-1zM996 92h1v3h-1zM997 91h1v3h-1zM998 90h1v3h-1zM999 89h1v2h-1zM1000 88h1v2h-1zM1001 86h1v3h-1zM1002 86h1v2h-1zM1003 85h1v2h-1zM1004 84h1v3h-1zM1005 83h1v3h-1zM1006 82h1v3h-1zM1007 81h1v3h-1zM1008 81h1v2h-1zM1009 80h1v2h-1zM1010 79h3v2h-3zM1013 78h4v2h-4zM1017 77h2v2h-2zM1019 76h1v3h-1zM1020 76h1v2h-1zM1021 75h1v3h-1zM1022 75h1v2h-1zM1023 74h1v3h-1zM1024 74h1v2h-1zM1025 73h1v3h-1zM1026 73h1v2h-1zM1027 72h1v3h-1zM1028 72h2v2h-2zM1030 71h2v2h-2zM1032 70h2v2h-2zM1034 69h1v3h-1zM1035 69h1v2h-1zM1036 68h1v3h-1zM1037 68h1v2h-1zM1038 67h1v3h-1zM1039 67h1v2h-1zM1040 66h1v3h-1zM1041 66h1v2h-1zM1042 65h1v3h-1zM1043 65h3v2h-3zM1046 64h4v2h-4zM1050 63h3v2h-3zM1053 62h2v2h-2zM1055 61h1v3h-1zM1056 61h2v2h-2zM1058 60h3v2h-3zM1061 59h1v3h-1zM1062 59h3v2h-3zM1065 58h6v2h-6zM1071 57h11v2h-11zM1082 56h1v3h-1zM1083 56h3v2h-3zM1086 55h3v2h-3zM1089 54h1v3h-1zM1090 54h18v2h-18zM1108 53h1v3h-1zM1109 53h3v2h-3zM1112 52h1v3h-1zM1113 52h2v2h-2zM1115 51h1v3h-1zM1116 51h2v2h-2zM1118 50h2v2h-2zM1120 49h1v3h-1zM1121 49h7v2h-7zM1128 50h3v2h-3z" fill="#00ff00" shape-rendering="crispEdges"/>
<g>
<polygon points="59.4,343.4 53.4,353.2 59.4,350.09999999999997" fill="#808080"/>
<polyline points="59.4,343.4 65.0,353.0 59.4,350.09999999999997" fill="none" stroke="#bcc0d0" stroke-width="0.8"/>
<polygon points="155.4,339.4 149.4,349.2 155.4,346.09999999999997" fill="#808080"/>
<polyline points="155.4,339.4 161.0,349.0 155.4,346.09999999999997" fill="none" stroke="#bcc0d0" stroke-width="0.8"/>
<polygon points="307.4,279.4 301.4,289.2 307.4,286.09999999999997" fill="#808080"/>
<polyline points="307.4,279.4 313.0,289.0 307.4,286.09999999999997" fill="none" stroke="#bcc0d0" stroke-width="0.8"/>
<polygon points="379.4,308.4 373.4,318.2 379.4,315.09999999999997" fill="#808080"/>
<polyline points="379.4,308.4 385.0,318.0 379.4,315.09999999999997" fill="none" stroke="#bcc0d0" stroke-width="0.8"/>
<polygon points="427.4,280.4 421.4,290.2 427.4,287.09999999999997" fill="#808080"/>
<polyline points="427.4,280.4 433.0,290.0 427.4,287.09999999999997" fill="none" stroke="#bcc0d0" stroke-width="0.8"/>
<polygon points="467.4,255.4 461.4,265.2 467.4,262.1" fill="#808080"/>
<polyline points="467.4,255.4 473.0,265.0 467.4,262.1" fill="none" stroke="#bcc0d0" stroke-width="0.8"/>
<polygon points="523.4,241.4 517.4,251.20000000000002 523.4,248.1" fill="#808080"/>
<polyline points="523.4,241.4 529.0,251.0 523.4,248.1" fill="none" stroke="#bcc0d0" stroke-width="0.8"/>
<polygon points="619.4,173.4 613.4,183.20000000000002 619.4,180.1" fill="#808080"/>
<polyline points="619.4,173.4 625.0,183.0 619.4,180.1" fill="none" stroke="#bcc0d0" stroke-width="0.8"/>
<polygon points="675.4,160.4 669.4,170.20000000000002 675.4,167.1" fill="#808080"/>
<polyline points="675.4,160.4 681.0,170.0 675.4,167.1" fill="none" stroke="#bcc0d0" stroke-width="0.8"/>
<polygon points="723.4,168.4 717.4,178.20000000000002 723.4,175.1" fill="#808080"/>
<polyline points="723.4,168.4 729.0,178.0 723.4,175.1" fill="none" stroke="#bcc0d0" stroke-width="0.8"/>
<polygon points="779.4,100.4 773.4,110.2 779.4,107.10000000000001" fill="#808080"/>
<polyline points="779.4,100.4 785.0,110.0 779.4,107.10000000000001" fill="none" stroke="#bcc0d0" stroke-width="0.8"/>
<polygon points="827.4,90.4 821.4,100.2 827.4,97.10000000000001" fill="#808080"/>
<polyline points="827.4,90.4 833.0,100.0 827.4,97.10000000000001" fill="none" stroke="#bcc0d0" stroke-width="0.8"/>
<polygon points="867.4,106.4 861.4,116.2 867.4,113.10000000000001" fill="#808080"/>
<polyline points="867.4,106.4 873.0,116.0 867.4,113.10000000000001" fill="none" stroke="#bcc0d0" stroke-width="0.8"/>
<polygon points="899.4,96.4 893.4,106.2 899.4,103.10000000000001" fill="#808080"/>
<polyline points="899.4,96.4 905.0,106.0 899.4,103.10000000000001" fill="none" stroke="#bcc0d0" stroke-width="0.8"/>
<polygon points="979.4,22.4 973.4,32.2 979.4,29.099999999999998" fill="#808080"/>
<polyline points="979.4,22.4 985.0,32.0 979.4,29.099999999999998" fill="none" stroke="#bcc0d0" stroke-width="0.8"/>
<polygon points="1067.4,30.4 1061.4,40.2 1067.4,37.1" fill="#808080"/>
<polyline points="1067.4,30.4 1073.0,40.0 1067.4,37.1" fill="none" stroke="#bcc0d0" stroke-width="0.8"/>
<polygon points="107.1,477.8 113.1,468 107.1,471.1" fill="#808080"/>
<polyline points="107.1,477.8 101.5,468.2 107.1,471.1" fill="none" stroke="#bcc0d0" stroke-width="0.8"/>
<polygon points="147.1,443.8 153.1,434 147.1,437.1" fill="#808080"/>
<polyline points="147.1,443.8 141.5,434.2 147.1,437.1" fill="none" stroke="#bcc0d0" stroke-width="0.8"/>
<polygon points="203.1,455.8 209.1,446 203.1,449.1" fill="#808080"/>
<polyline points="203.1,455.8 197.5,446.2 203.1,449.1" fill="none" stroke="#bcc0d0" stroke-width="0.8"/>
<polygon points="235.1,447.8 241.1,438 235.1,441.1" fill="#808080"/>
<polyline points="235.1,447.8 229.5,438.2 235.1,441.1" fill="none" stroke="#bcc0d0" stroke-width="0.8"/>
<polygon points="275.1,437.8 281.1,428 275.1,431.1" fill="#808080"/>
<polyline points="275.1,437.8 269.5,428.2 275.1,431.1" fill="none" stroke="#bcc0d0" stroke-width="0.8"/>
<polygon points="371.1,358.8 377.1,349 371.1,352.1" fill="#808080"/>
<polyline points="371.1,358.8 365.5,349.2 371.1,352.1" fill="none" stroke="#bcc0d0" stroke-width="0.8"/>
<polygon points="435.1,365.8 441.1,356 435.1,359.1" fill="#808080"/>
<polyline points="435.1,365.8 429.5,356.2 435.1,359.1" fill="none" stroke="#bcc0d0" stroke-width="0.8"/>
<polygon points="499.1,303.8 505.1,294 499.1,297.1" fill="#808080"/>
<polyline points="499.1,303.8 493.5,294.2 499.1,297.1" fill="none" stroke="#bcc0d0" stroke-width="0.8"/>
<polygon points="595.1,276.8 601.1,267 595.1,270.1" fill="#808080"/>
<polyline points="595.1,276.8 589.5,267.2 595.1,270.1" fill="none" stroke="#bcc0d0" stroke-width="0.8"/>
<polygon points="643.1,259.8 649.1,250 643.1,253.1" fill="#808080"/>
<polyline points="643.1,259.8 637.5,250.2 643.1,253.1" fill="none" stroke="#bcc0d0" stroke-width="0.8"/>
<polygon points="723.1,226.8 729.1,217 723.1,220.1" fill="#808080"/>
<polyline points="723.1,226.8 717.5,217.2 723.1,220.1" fill="none" stroke="#bcc0d0" stroke-width="0.8"/>
<polygon points="747.1,236.8 753.1,227 747.1,230.1" fill="#808080"/>
<polyline points="747.1,236.8 741.5,227.2 747.1,230.1" fill="none" stroke="#bcc0d0" stroke-width="0.8"/>
<polygon points="859.1,145.8 865.1,136 859.1,139.1" fill="#808080"/>
<polyline points="859.1,145.8 853.5,136.2 859.1,139.1" fill="none" stroke="#bcc0d0" stroke-width="0.8"/>
<polygon points="907.1,141.8 913.1,132 907.1,135.1" fill="#808080"/>
<polyline points="907.1,141.8 901.5,132.2 907.1,135.1" fill="none" stroke="#bcc0d0" stroke-width="0.8"/>
<polygon points="947.1,138.8 953.1,129 947.1,132.1" fill="#808080"/>
<polyline points="947.1,138.8 941.5,129.2 947.1,132.1" fill="none" stroke="#bcc0d0" stroke-width="0.8"/>
<polygon points="995.1,98.8 1001.1,89 995.1,92.1" fill="#808080"/>
<polyline points="995.1,98.8 989.5,89.2 995.1,92.1" fill="none" stroke="#bcc0d0" stroke-width="0.8"/>
<polygon points="1035.1,69.8 1041.1,60 1035.1,63.1" fill="#808080"/>
<polyline points="1035.1,69.8 1029.5,60.2 1035.1,63.1" fill="none" stroke="#bcc0d0" stroke-width="0.8"/>
<polygon points="1059.1,75.8 1065.1,66 1059.1,69.1" fill="#808080"/>
<polyline points="1059.1,75.8 1053.5,66.2 1059.1,69.1" fill="none" stroke="#bcc0d0" stroke-width="0.8"/>
</g>
<g fill="none" stroke-width="1.35" stroke-linejoin="miter">
<polygon points="1122.5,58.5 1130.5,65.5 1126.5,65.5 1126.5,76.5 1118.5,76.5 1118.5,65.5 1114.5,65.5" stroke="#62cc3c"/>
<polygon points="1118.5,87.5 1125.5,87.5 1125.5,98.5 1130.5,98.5 1122,105.8 1113.5,98.5 1118.5,98.5" stroke="#ff1a1a"/>
</g>
</g>
<g shape-rendering="crispEdges">
<rect x="0" y="548" width="4" height="1" fill="#008000"/>
<rect x="8" y="545" width="4" height="4" fill="#008000"/>
<rect x="16" y="541" width="4" height="8" fill="#008000"/>
<rect x="24" y="538" width="4" height="11" fill="#008000"/>
<rect x="32" y="534" width="4" height="15" fill="#008000"/>
<rect x="40" y="529" width="4" height="20" fill="#008000"/>
<rect x="48" y="523" width="4" height="26" fill="#008000"/>
<rect x="56" y="519" width="4" height="30" fill="#008000"/>
<rect x="64" y="520" width="4" height="29" fill="#ff0000"/>
<rect x="72" y="518" width="4" height="31" fill="#008000"/>
<rect x="80" y="520" width="4" height="29" fill="#ff0000"/>
<rect x="88" y="528" width="4" height="21" fill="#ff0000"/>
<rect x="96" y="538" width="4" height="11" fill="#ff0000"/>
<rect x="104" y="547" width="4" height="2" fill="#ff0000"/>
<rect x="112" y="549" width="4" height="10" fill="#ff0000"/>
<rect x="120" y="549" width="4" height="17" fill="#ff0000"/>
<rect x="128" y="549" width="4" height="17" fill="#ff0000"/>
<rect x="136" y="549" width="4" height="15" fill="#008000"/>
<rect x="144" y="549" width="4" height="8" fill="#008000"/>
<rect x="152" y="543" width="4" height="6" fill="#008000"/>
<rect x="160" y="537" width="4" height="12" fill="#008000"/>
<rect x="168" y="535" width="4" height="14" fill="#008000"/>
<rect x="176" y="534" width="4" height="15" fill="#008000"/>
<rect x="184" y="537" width="4" height="12" fill="#ff0000"/>
<rect x="192" y="548" width="4" height="1" fill="#ff0000"/>
<rect x="200" y="549" width="4" height="5" fill="#ff0000"/>
<rect x="208" y="549" width="4" height="8" fill="#ff0000"/>
<rect x="216" y="549" width="4" height="11" fill="#ff0000"/>
<rect x="224" y="549" width="4" height="11" fill="#008000"/>
<rect x="232" y="549" width="4" height="10" fill="#008000"/>
<rect x="240" y="549" width="4" height="7" fill="#008000"/>
<rect x="248" y="549" width="4" height="6" fill="#008000"/>
<rect x="256" y="549" width="4" height="2" fill="#008000"/>
<rect x="264" y="549" width="4" height="1" fill="#008000"/>
<rect x="272" y="548" width="4" height="1" fill="#008000"/>
<rect x="280" y="547" width="4" height="2" fill="#008000"/>
<rect x="288" y="542" width="4" height="7" fill="#008000"/>
<rect x="296" y="537" width="4" height="12" fill="#008000"/>
<rect x="304" y="524" width="4" height="25" fill="#008000"/>
<rect x="312" y="512" width="4" height="37" fill="#008000"/>
<rect x="320" y="499" width="4" height="50" fill="#008000"/>
<rect x="328" y="490" width="4" height="59" fill="#008000"/>
<rect x="336" y="485" width="4" height="64" fill="#008000"/>
<rect x="344" y="490" width="4" height="59" fill="#ff0000"/>
<rect x="352" y="491" width="4" height="58" fill="#ff0000"/>
<rect x="360" y="494" width="4" height="55" fill="#ff0000"/>
<rect x="368" y="498" width="4" height="51" fill="#ff0000"/>
<rect x="376" y="499" width="4" height="50" fill="#ff0000"/>
<rect x="384" y="500" width="4" height="49" fill="#ff0000"/>
<rect x="392" y="500" width="4" height="49" fill="#008000"/>
<rect x="400" y="498" width="4" height="51" fill="#008000"/>
<rect x="408" y="496" width="4" height="53" fill="#008000"/>
<rect x="416" y="498" width="4" height="51" fill="#ff0000"/>
<rect x="424" y="497" width="4" height="52" fill="#008000"/>
<rect x="432" y="500" width="4" height="49" fill="#ff0000"/>
<rect x="440" y="503" width="4" height="46" fill="#ff0000"/>
<rect x="448" y="505" width="4" height="44" fill="#ff0000"/>
<rect x="456" y="502" width="4" height="47" fill="#008000"/>
<rect x="464" y="501" width="4" height="48" fill="#008000"/>
<rect x="472" y="496" width="4" height="53" fill="#008000"/>
<rect x="480" y="493" width="4" height="56" fill="#008000"/>
<rect x="488" y="492" width="4" height="57" fill="#008000"/>
<rect x="496" y="493" width="4" height="56" fill="#ff0000"/>
<rect x="504" y="497" width="4" height="52" fill="#ff0000"/>
<rect x="512" y="499" width="4" height="50" fill="#ff0000"/>
<rect x="520" y="499" width="4" height="50" fill="#ff0000"/>
<rect x="528" y="500" width="4" height="49" fill="#ff0000"/>
<rect x="536" y="500" width="4" height="49" fill="#008000"/>
<rect x="544" y="500" width="4" height="49" fill="#ff0000"/>
<rect x="552" y="502" width="4" height="47" fill="#ff0000"/>
<rect x="560" y="503" width="4" height="46" fill="#ff0000"/>
<rect x="568" y="503" width="4" height="46" fill="#ff0000"/>
<rect x="576" y="501" width="4" height="48" fill="#008000"/>
<rect x="584" y="499" width="4" height="50" fill="#008000"/>
<rect x="592" y="500" width="4" height="49" fill="#ff0000"/>
<rect x="600" y="499" width="4" height="50" fill="#008000"/>
<rect x="608" y="496" width="4" height="53" fill="#008000"/>
<rect x="616" y="492" width="4" height="57" fill="#008000"/>
<rect x="624" y="492" width="4" height="57" fill="#008000"/>
<rect x="632" y="492" width="4" height="57" fill="#ff0000"/>
<rect x="640" y="492" width="4" height="57" fill="#ff0000"/>
<rect x="648" y="492" width="4" height="57" fill="#ff0000"/>
<rect x="656" y="495" width="4" height="54" fill="#ff0000"/>
<rect x="664" y="493" width="4" height="56" fill="#008000"/>
<rect x="672" y="488" width="4" height="61" fill="#008000"/>
<rect x="680" y="484" width="4" height="65" fill="#008000"/>
<rect x="688" y="486" width="4" height="63" fill="#ff0000"/>
<rect x="696" y="488" width="4" height="61" fill="#ff0000"/>
<rect x="704" y="492" width="4" height="57" fill="#ff0000"/>
<rect x="712" y="497" width="4" height="52" fill="#ff0000"/>
<rect x="720" y="504" width="4" height="45" fill="#ff0000"/>
<rect x="728" y="511" width="4" height="38" fill="#ff0000"/>
<rect x="736" y="516" width="4" height="33" fill="#ff0000"/>
<rect x="744" y="523" width="4" height="26" fill="#ff0000"/>
<rect x="752" y="530" width="4" height="19" fill="#ff0000"/>
<rect x="760" y="529" width="4" height="20" fill="#008000"/>
<rect x="768" y="524" width="4" height="25" fill="#008000"/>
<rect x="776" y="516" width="4" height="33" fill="#008000"/>
<rect x="784" y="505" width="4" height="44" fill="#008000"/>
<rect x="792" y="493" width="4" height="56" fill="#008000"/>
<rect x="800" y="488" width="4" height="61" fill="#008000"/>
<rect x="808" y="485" width="4" height="64" fill="#008000"/>
<rect x="816" y="485" width="4" height="64" fill="#ff0000"/>
<rect x="824" y="486" width="4" height="63" fill="#ff0000"/>
<rect x="832" y="489" width="4" height="60" fill="#ff0000"/>
<rect x="840" y="491" width="4" height="58" fill="#ff0000"/>
<rect x="848" y="495" width="4" height="54" fill="#ff0000"/>
<rect x="856" y="499" width="4" height="50" fill="#ff0000"/>
<rect x="864" y="504" width="4" height="45" fill="#ff0000"/>
<rect x="872" y="508" width="4" height="41" fill="#ff0000"/>
<rect x="880" y="510" width="4" height="39" fill="#ff0000"/>
<rect x="888" y="511" width="4" height="38" fill="#ff0000"/>
<rect x="896" y="512" width="4" height="37" fill="#ff0000"/>
<rect x="904" y="514" width="4" height="35" fill="#ff0000"/>
<rect x="912" y="517" width="4" height="32" fill="#ff0000"/>
<rect x="920" y="517" width="4" height="32" fill="#ff0000"/>
<rect x="928" y="518" width="4" height="31" fill="#ff0000"/>
<rect x="936" y="520" width="4" height="29" fill="#ff0000"/>
<rect x="944" y="521" width="4" height="28" fill="#ff0000"/>
<rect x="952" y="518" width="4" height="31" fill="#008000"/>
<rect x="960" y="512" width="4" height="37" fill="#008000"/>
<rect x="968" y="505" width="4" height="44" fill="#008000"/>
<rect x="976" y="496" width="4" height="53" fill="#008000"/>
<rect x="984" y="489" width="4" height="60" fill="#008000"/>
<rect x="992" y="488" width="4" height="61" fill="#008000"/>
<rect x="1000" y="489" width="4" height="60" fill="#ff0000"/>
<rect x="1008" y="493" width="4" height="56" fill="#ff0000"/>
<rect x="1016" y="498" width="4" height="51" fill="#ff0000"/>
<rect x="1024" y="502" width="4" height="47" fill="#ff0000"/>
<rect x="1032" y="502" width="4" height="47" fill="#ff0000"/>
<rect x="1040" y="503" width="4" height="46" fill="#ff0000"/>
<rect x="1048" y="505" width="4" height="44" fill="#ff0000"/>
<rect x="1056" y="508" width="4" height="41" fill="#ff0000"/>
<rect x="1064" y="509" width="4" height="40" fill="#ff0000"/>
<rect x="1072" y="511" width="4" height="38" fill="#ff0000"/>
<rect x="1080" y="514" width="4" height="35" fill="#ff0000"/>
<rect x="1088" y="515" width="4" height="34" fill="#ff0000"/>
<rect x="1096" y="513" width="4" height="36" fill="#008000"/>
<rect x="1104" y="517" width="4" height="32" fill="#ff0000"/>
<rect x="0" y="616" width="4" height="13" fill="#ff0000"/>
<rect x="8" y="618" width="4" height="11" fill="#ff0000"/>
<rect x="16" y="617" width="4" height="12" fill="#008000"/>
<rect x="24" y="616" width="4" height="13" fill="#008000"/>
<rect x="32" y="615" width="4" height="14" fill="#008000"/>
<rect x="40" y="613" width="4" height="16" fill="#008000"/>
<rect x="48" y="611" width="4" height="18" fill="#008000"/>
<rect x="56" y="612" width="4" height="17" fill="#ff0000"/>
<rect x="64" y="620" width="4" height="9" fill="#ff0000"/>
<rect x="72" y="623" width="4" height="6" fill="#ff0000"/>
<rect x="80" y="629" width="4" height="1" fill="#ff0000"/>
<rect x="88" y="629" width="4" height="13" fill="#ff0000"/>
<rect x="96" y="629" width="4" height="25" fill="#ff0000"/>
<rect x="104" y="629" width="4" height="31" fill="#ff0000"/>
<rect x="112" y="629" width="4" height="39" fill="#ff0000"/>
<rect x="120" y="629" width="4" height="35" fill="#008000"/>
<rect x="128" y="629" width="4" height="21" fill="#008000"/>
<rect x="136" y="629" width="4" height="6" fill="#008000"/>
<rect x="144" y="618" width="4" height="11" fill="#008000"/>
<rect x="152" y="600" width="4" height="29" fill="#008000"/>
<rect x="160" y="600" width="4" height="29" fill="#008000"/>
<rect x="168" y="608" width="4" height="21" fill="#ff0000"/>
<rect x="176" y="616" width="4" height="13" fill="#ff0000"/>
<rect x="184" y="629" width="4" height="1" fill="#ff0000"/>
<rect x="192" y="629" width="4" height="17" fill="#ff0000"/>
<rect x="200" y="629" width="4" height="24" fill="#ff0000"/>
<rect x="208" y="629" width="4" height="21" fill="#008000"/>
<rect x="216" y="629" width="4" height="16" fill="#008000"/>
<rect x="224" y="629" width="4" height="8" fill="#008000"/>
<rect x="232" y="629" width="4" height="3" fill="#008000"/>
<rect x="240" y="624" width="4" height="5" fill="#008000"/>
<rect x="248" y="623" width="4" height="6" fill="#008000"/>
<rect x="256" y="620" width="4" height="9" fill="#008000"/>
<rect x="264" y="621" width="4" height="8" fill="#ff0000"/>
<rect x="272" y="623" width="4" height="6" fill="#ff0000"/>
<rect x="280" y="623" width="4" height="6" fill="#ff0000"/>
<rect x="288" y="619" width="4" height="10" fill="#008000"/>
<rect x="296" y="616" width="4" height="13" fill="#008000"/>
<rect x="304" y="600" width="4" height="29" fill="#008000"/>
<rect x="312" y="591" width="4" height="38" fill="#008000"/>
<rect x="320" y="586" width="4" height="43" fill="#008000"/>
<rect x="328" y="588" width="4" height="41" fill="#ff0000"/>
<rect x="336" y="597" width="4" height="32" fill="#ff0000"/>
<rect x="344" y="619" width="4" height="10" fill="#ff0000"/>
<rect x="352" y="629" width="4" height="1" fill="#ff0000"/>
<rect x="360" y="629" width="4" height="9" fill="#ff0000"/>
<rect x="368" y="629" width="4" height="12" fill="#ff0000"/>
<rect x="376" y="629" width="4" height="9" fill="#008000"/>
<rect x="384" y="629" width="4" height="7" fill="#008000"/>
<rect x="392" y="629" width="4" height="3" fill="#008000"/>
<rect x="400" y="628" width="4" height="1" fill="#008000"/>
<rect x="408" y="625" width="4" height="4" fill="#008000"/>
<rect x="416" y="628" width="4" height="1" fill="#ff0000"/>
<rect x="424" y="627" width="4" height="2" fill="#008000"/>
<rect x="432" y="629" width="4" height="3" fill="#ff0000"/>
<rect x="440" y="629" width="4" height="8" fill="#ff0000"/>
<rect x="448" y="629" width="4" height="8" fill="#008000"/>
<rect x="456" y="629" width="4" height="2" fill="#008000"/>
<rect x="464" y="627" width="4" height="2" fill="#008000"/>
<rect x="472" y="620" width="4" height="9" fill="#008000"/>
<rect x="480" y="618" width="4" height="11" fill="#008000"/>
<rect x="488" y="620" width="4" height="9" fill="#ff0000"/>
<rect x="496" y="626" width="4" height="3" fill="#ff0000"/>
<rect x="504" y="629" width="4" height="6" fill="#ff0000"/>
<rect x="512" y="629" width="4" height="7" fill="#ff0000"/>
<rect x="520" y="629" width="4" height="6" fill="#008000"/>
<rect x="528" y="629" width="4" height="4" fill="#008000"/>
<rect x="536" y="629" width="4" height="2" fill="#008000"/>
<rect x="544" y="629" width="4" height="1" fill="#008000"/>
<rect x="552" y="629" width="4" height="3" fill="#ff0000"/>
<rect x="560" y="629" width="4" height="4" fill="#ff0000"/>
<rect x="568" y="629" width="4" height="3" fill="#008000"/>
<rect x="576" y="628" width="4" height="1" fill="#008000"/>
<rect x="584" y="625" width="4" height="4" fill="#008000"/>
<rect x="592" y="626" width="4" height="3" fill="#ff0000"/>
<rect x="600" y="627" width="4" height="2" fill="#ff0000"/>
<rect x="608" y="624" width="4" height="5" fill="#008000"/>
<rect x="616" y="619" width="4" height="10" fill="#008000"/>
<rect x="624" y="622" width="4" height="7" fill="#ff0000"/>
<rect x="632" y="625" width="4" height="4" fill="#ff0000"/>
<rect x="640" y="629" width="4" height="1" fill="#ff0000"/>
<rect x="648" y="629" width="4" height="1" fill="#ff0000"/>
<rect x="656" y="629" width="4" height="4" fill="#ff0000"/>
<rect x="664" y="629" width="4" height="1" fill="#008000"/>
<rect x="672" y="621" width="4" height="8" fill="#008000"/>
<rect x="680" y="617" width="4" height="12" fill="#008000"/>
<rect x="688" y="623" width="4" height="6" fill="#ff0000"/>
<rect x="696" y="629" width="4" height="1" fill="#ff0000"/>
<rect x="704" y="629" width="4" height="9" fill="#ff0000"/>
<rect x="712" y="629" width="4" height="15" fill="#ff0000"/>
<rect x="720" y="629" width="4" height="19" fill="#ff0000"/>
<rect x="728" y="629" width="4" height="23" fill="#ff0000"/>
<rect x="736" y="629" width="4" height="23" fill="#008000"/>
<rect x="744" y="629" width="4" height="24" fill="#ff0000"/>
<rect x="752" y="629" width="4" height="25" fill="#ff0000"/>
<rect x="760" y="629" width="4" height="14" fill="#008000"/>
<rect x="768" y="628" width="4" height="1" fill="#008000"/>
<rect x="776" y="615" width="4" height="14" fill="#008000"/>
<rect x="784" y="600" width="4" height="29" fill="#008000"/>
<rect x="792" y="592" width="4" height="37" fill="#008000"/>
<rect x="800" y="597" width="4" height="32" fill="#ff0000"/>
<rect x="808" y="607" width="4" height="22" fill="#ff0000"/>
<rect x="816" y="618" width="4" height="11" fill="#ff0000"/>
<rect x="824" y="626" width="4" height="3" fill="#ff0000"/>
<rect x="832" y="629" width="4" height="4" fill="#ff0000"/>
<rect x="840" y="629" width="4" height="7" fill="#ff0000"/>
<rect x="848" y="629" width="4" height="11" fill="#ff0000"/>
<rect x="856" y="629" width="4" height="14" fill="#ff0000"/>
<rect x="864" y="629" width="4" height="16" fill="#ff0000"/>
<rect x="872" y="629" width="4" height="16" fill="#008000"/>
<rect x="880" y="629" width="4" height="14" fill="#008000"/>
<rect x="888" y="629" width="4" height="9" fill="#008000"/>
<rect x="896" y="629" width="4" height="5" fill="#008000"/>
<rect x="904" y="629" width="4" height="7" fill="#ff0000"/>
<rect x="912" y="629" width="4" height="7" fill="#ff0000"/>
<rect x="920" y="629" width="4" height="6" fill="#008000"/>
<rect x="928" y="629" width="4" height="5" fill="#008000"/>
<rect x="936" y="629" width="4" height="5" fill="#ff0000"/>
<rect x="944" y="629" width="4" height="4" fill="#008000"/>
<rect x="952" y="627" width="4" height="2" fill="#008000"/>
<rect x="960" y="619" width="4" height="10" fill="#008000"/>
<rect x="968" y="610" width="4" height="19" fill="#008000"/>
<rect x="976" y="603" width="4" height="26" fill="#008000"/>
<rect x="984" y="601" width="4" height="28" fill="#008000"/>
<rect x="992" y="611" width="4" height="18" fill="#ff0000"/>
<rect x="1000" y="621" width="4" height="8" fill="#ff0000"/>
<rect x="1008" y="629" width="4" height="3" fill="#ff0000"/>
<rect x="1016" y="629" width="4" height="13" fill="#ff0000"/>
<rect x="1024" y="629" width="4" height="15" fill="#ff0000"/>
<rect x="1032" y="629" width="4" height="10" fill="#008000"/>
<rect x="1040" y="629" width="4" height="7" fill="#008000"/>
<rect x="1048" y="629" width="4" height="6" fill="#008000"/>
<rect x="1056" y="629" width="4" height="8" fill="#ff0000"/>
<rect x="1064" y="629" width="4" height="8" fill="#008000"/>
<rect x="1072" y="629" width="4" height="8" fill="#ff0000"/>
<rect x="1080" y="629" width="4" height="9" fill="#ff0000"/>
<rect x="1088" y="629" width="4" height="7" fill="#008000"/>
<rect x="1096" y="629" width="4" height="1" fill="#008000"/>
<rect x="1104" y="629" width="4" height="5" fill="#ff0000"/>
<rect x="0" y="719" width="4" height="13" fill="#ff0000"/>
<rect x="0" y="732" width="4" height="4" fill="#ff0000"/>
<rect x="8" y="721" width="4" height="11" fill="#ff0000"/>
<rect x="8" y="732" width="4" height="1" fill="#ff0000"/>
<rect x="16" y="722" width="4" height="10" fill="#ff0000"/>
<rect x="16" y="732" width="4" height="2" fill="#008000"/>
<rect x="24" y="725" width="4" height="7" fill="#ff0000"/>
<rect x="24" y="732" width="4" height="2" fill="#008000"/>
<rect x="32" y="727" width="4" height="5" fill="#ff0000"/>
<rect x="32" y="732" width="4" height="4" fill="#008000"/>
<rect x="40" y="728" width="4" height="4" fill="#ff0000"/>
<rect x="40" y="732" width="4" height="7" fill="#008000"/>
<rect x="48" y="730" width="4" height="2" fill="#ff0000"/>
<rect x="48" y="732" width="4" height="12" fill="#008000"/>
<rect x="56" y="732" width="4" height="15" fill="#008000"/>
<rect x="64" y="728" width="4" height="4" fill="#008000"/>
<rect x="64" y="732" width="4" height="17" fill="#008000"/>
<rect x="72" y="725" width="4" height="7" fill="#008000"/>
<rect x="72" y="732" width="4" height="20" fill="#008000"/>
<rect x="80" y="722" width="4" height="10" fill="#008000"/>
<rect x="80" y="732" width="4" height="22" fill="#008000"/>
<rect x="88" y="719" width="4" height="13" fill="#008000"/>
<rect x="88" y="732" width="4" height="17" fill="#ff0000"/>
<rect x="96" y="716" width="4" height="16" fill="#008000"/>
<rect x="96" y="732" width="4" height="16" fill="#ff0000"/>
<rect x="104" y="717" width="4" height="15" fill="#ff0000"/>
<rect x="104" y="732" width="4" height="14" fill="#ff0000"/>
<rect x="112" y="717" width="4" height="15" fill="#008000"/>
<rect x="112" y="732" width="4" height="4" fill="#ff0000"/>
<rect x="120" y="719" width="4" height="13" fill="#ff0000"/>
<rect x="120" y="732" width="4" height="7" fill="#008000"/>
<rect x="128" y="724" width="4" height="8" fill="#ff0000"/>
<rect x="128" y="732" width="4" height="14" fill="#008000"/>
<rect x="136" y="731" width="4" height="1" fill="#ff0000"/>
<rect x="136" y="732" width="4" height="18" fill="#008000"/>
<rect x="144" y="726" width="4" height="6" fill="#008000"/>
<rect x="144" y="732" width="4" height="15" fill="#ff0000"/>
<rect x="152" y="721" width="4" height="11" fill="#008000"/>
<rect x="152" y="732" width="4" height="8" fill="#ff0000"/>
<rect x="160" y="721" width="4" height="11" fill="#008000"/>
<rect x="160" y="732" width="4" height="5" fill="#ff0000"/>
<rect x="168" y="724" width="4" height="8" fill="#ff0000"/>
<rect x="168" y="732" width="4" height="1" fill="#ff0000"/>
<rect x="176" y="728" width="4" height="4" fill="#ff0000"/>
<rect x="176" y="732" width="4" height="11" fill="#008000"/>
<rect x="184" y="731" width="4" height="1" fill="#ff0000"/>
<rect x="184" y="732" width="4" height="11" fill="#008000"/>
<rect x="192" y="726" width="4" height="6" fill="#008000"/>
<rect x="192" y="732" width="4" height="3" fill="#ff0000"/>
<rect x="200" y="725" width="4" height="7" fill="#008000"/>
<rect x="200" y="732" width="4" height="1" fill="#ff0000"/>
<rect x="208" y="726" width="4" height="6" fill="#ff0000"/>
<rect x="208" y="732" width="4" height="1" fill="#ff0000"/>
<rect x="216" y="730" width="4" height="2" fill="#ff0000"/>
<rect x="216" y="732" width="4" height="5" fill="#008000"/>
<rect x="224" y="732" width="4" height="9" fill="#008000"/>
<rect x="232" y="730" width="4" height="2" fill="#008000"/>
<rect x="232" y="732" width="4" height="9" fill="#ff0000"/>
<rect x="240" y="727" width="4" height="5" fill="#008000"/>
<rect x="240" y="732" width="4" height="6" fill="#ff0000"/>
<rect x="248" y="726" width="4" height="6" fill="#008000"/>
<rect x="248" y="732" width="4" height="3" fill="#ff0000"/>
<rect x="256" y="726" width="4" height="6" fill="#ff0000"/>
<rect x="256" y="732" width="4" height="2" fill="#ff0000"/>
<rect x="264" y="729" width="4" height="3" fill="#ff0000"/>
<rect x="264" y="732" width="4" height="2" fill="#ff0000"/>
<rect x="272" y="730" width="4" height="2" fill="#ff0000"/>
<rect x="272" y="732" width="4" height="1" fill="#ff0000"/>
<rect x="280" y="731" width="4" height="1" fill="#ff0000"/>
<rect x="280" y="732" width="4" height="3" fill="#008000"/>
<rect x="288" y="730" width="4" height="2" fill="#008000"/>
<rect x="288" y="732" width="4" height="7" fill="#008000"/>
<rect x="296" y="731" width="4" height="1" fill="#ff0000"/>
<rect x="296" y="732" width="4" height="4" fill="#ff0000"/>
<rect x="304" y="729" width="4" height="3" fill="#008000"/>
<rect x="304" y="732" width="4" height="4" fill="#008000"/>
<rect x="312" y="729" width="4" height="3" fill="#008000"/>
<rect x="312" y="732" width="4" height="10" fill="#008000"/>
<rect x="320" y="729" width="4" height="3" fill="#008000"/>
<rect x="320" y="732" width="4" height="16" fill="#008000"/>
<rect x="328" y="726" width="4" height="6" fill="#008000"/>
<rect x="328" y="732" width="4" height="33" fill="#008000"/>
<rect x="336" y="721" width="4" height="11" fill="#008000"/>
<rect x="336" y="732" width="4" height="38" fill="#008000"/>
<rect x="344" y="708" width="4" height="24" fill="#008000"/>
<rect x="344" y="732" width="4" height="36" fill="#ff0000"/>
<rect x="352" y="702" width="4" height="30" fill="#008000"/>
<rect x="352" y="732" width="4" height="36" fill="#ff0000"/>
<rect x="360" y="697" width="4" height="35" fill="#008000"/>
<rect x="360" y="732" width="4" height="32" fill="#ff0000"/>
<rect x="368" y="698" width="4" height="34" fill="#ff0000"/>
<rect x="368" y="732" width="4" height="29" fill="#ff0000"/>
<rect x="376" y="698" width="4" height="34" fill="#008000"/>
<rect x="376" y="732" width="4" height="26" fill="#ff0000"/>
<rect x="384" y="700" width="4" height="32" fill="#ff0000"/>
<rect x="384" y="732" width="4" height="25" fill="#ff0000"/>
<rect x="392" y="702" width="4" height="30" fill="#ff0000"/>
<rect x="392" y="732" width="4" height="22" fill="#ff0000"/>
<rect x="400" y="702" width="4" height="30" fill="#ff0000"/>
<rect x="400" y="732" width="4" height="22" fill="#008000"/>
<rect x="408" y="703" width="4" height="29" fill="#ff0000"/>
<rect x="408" y="732" width="4" height="24" fill="#008000"/>
<rect x="416" y="703" width="4" height="29" fill="#008000"/>
<rect x="416" y="732" width="4" height="23" fill="#ff0000"/>
<rect x="424" y="702" width="4" height="30" fill="#008000"/>
<rect x="424" y="732" width="4" height="24" fill="#008000"/>
<rect x="432" y="701" width="4" height="31" fill="#008000"/>
<rect x="432" y="732" width="4" height="25" fill="#008000"/>
<rect x="440" y="700" width="4" height="32" fill="#008000"/>
<rect x="440" y="732" width="4" height="20" fill="#ff0000"/>
<rect x="448" y="700" width="4" height="32" fill="#008000"/>
<rect x="448" y="732" width="4" height="20" fill="#008000"/>
<rect x="456" y="701" width="4" height="31" fill="#ff0000"/>
<rect x="456" y="732" width="4" height="17" fill="#ff0000"/>
<rect x="464" y="702" width="4" height="30" fill="#ff0000"/>
<rect x="464" y="732" width="4" height="14" fill="#ff0000"/>
<rect x="472" y="705" width="4" height="27" fill="#ff0000"/>
<rect x="472" y="732" width="4" height="17" fill="#008000"/>
<rect x="480" y="705" width="4" height="27" fill="#ff0000"/>
<rect x="480" y="732" width="4" height="21" fill="#008000"/>
<rect x="488" y="706" width="4" height="26" fill="#ff0000"/>
<rect x="488" y="732" width="4" height="26" fill="#008000"/>
<rect x="496" y="703" width="4" height="29" fill="#008000"/>
<rect x="496" y="732" width="4" height="28" fill="#008000"/>
<rect x="504" y="699" width="4" height="33" fill="#008000"/>
<rect x="504" y="732" width="4" height="26" fill="#ff0000"/>
<rect x="512" y="696" width="4" height="36" fill="#008000"/>
<rect x="512" y="732" width="4" height="25" fill="#ff0000"/>
<rect x="520" y="696" width="4" height="36" fill="#008000"/>
<rect x="520" y="732" width="4" height="22" fill="#ff0000"/>
<rect x="528" y="697" width="4" height="35" fill="#ff0000"/>
<rect x="528" y="732" width="4" height="21" fill="#ff0000"/>
<rect x="536" y="698" width="4" height="34" fill="#ff0000"/>
<rect x="536" y="732" width="4" height="23" fill="#008000"/>
<rect x="544" y="699" width="4" height="33" fill="#ff0000"/>
<rect x="544" y="732" width="4" height="26" fill="#008000"/>
<rect x="552" y="698" width="4" height="34" fill="#008000"/>
<rect x="552" y="732" width="4" height="25" fill="#ff0000"/>
<rect x="560" y="697" width="4" height="35" fill="#008000"/>
<rect x="560" y="732" width="4" height="23" fill="#ff0000"/>
<rect x="568" y="696" width="4" height="36" fill="#008000"/>
<rect x="568" y="732" width="4" height="22" fill="#ff0000"/>
<rect x="576" y="697" width="4" height="35" fill="#ff0000"/>
<rect x="576" y="732" width="4" height="23" fill="#008000"/>
<rect x="584" y="698" width="4" height="34" fill="#ff0000"/>
<rect x="584" y="732" width="4" height="23" fill="#008000"/>
<rect x="592" y="698" width="4" height="34" fill="#ff0000"/>
<rect x="592" y="732" width="4" height="24" fill="#008000"/>
<rect x="600" y="697" width="4" height="35" fill="#008000"/>
<rect x="600" y="732" width="4" height="24" fill="#008000"/>
<rect x="608" y="697" width="4" height="35" fill="#008000"/>
<rect x="608" y="732" width="4" height="25" fill="#008000"/>
<rect x="616" y="696" width="4" height="36" fill="#008000"/>
<rect x="616" y="732" width="4" height="23" fill="#ff0000"/>
<rect x="624" y="695" width="4" height="37" fill="#008000"/>
<rect x="624" y="732" width="4" height="22" fill="#ff0000"/>
<rect x="632" y="697" width="4" height="35" fill="#ff0000"/>
<rect x="632" y="732" width="4" height="28" fill="#008000"/>
<rect x="640" y="697" width="4" height="35" fill="#ff0000"/>
<rect x="640" y="732" width="4" height="34" fill="#008000"/>
<rect x="648" y="694" width="4" height="38" fill="#008000"/>
<rect x="648" y="732" width="4" height="31" fill="#ff0000"/>
<rect x="656" y="689" width="4" height="43" fill="#008000"/>
<rect x="656" y="732" width="4" height="23" fill="#ff0000"/>
<rect x="664" y="689" width="4" height="43" fill="#008000"/>
<rect x="664" y="732" width="4" height="20" fill="#ff0000"/>
<rect x="672" y="693" width="4" height="39" fill="#ff0000"/>
<rect x="672" y="732" width="4" height="27" fill="#008000"/>
<rect x="680" y="697" width="4" height="35" fill="#ff0000"/>
<rect x="680" y="732" width="4" height="31" fill="#008000"/>
<rect x="688" y="695" width="4" height="37" fill="#008000"/>
<rect x="688" y="732" width="4" height="31" fill="#ff0000"/>
<rect x="696" y="691" width="4" height="41" fill="#008000"/>
<rect x="696" y="732" width="4" height="31" fill="#008000"/>
<rect x="704" y="688" width="4" height="44" fill="#008000"/>
<rect x="704" y="732" width="4" height="30" fill="#ff0000"/>
<rect x="712" y="688" width="4" height="44" fill="#008000"/>
<rect x="712" y="732" width="4" height="29" fill="#ff0000"/>
<rect x="720" y="688" width="4" height="44" fill="#ff0000"/>
<rect x="720" y="732" width="4" height="26" fill="#ff0000"/>
<rect x="728" y="689" width="4" height="43" fill="#ff0000"/>
<rect x="728" y="732" width="4" height="22" fill="#ff0000"/>
<rect x="736" y="691" width="4" height="41" fill="#ff0000"/>
<rect x="736" y="732" width="4" height="19" fill="#ff0000"/>
<rect x="744" y="694" width="4" height="38" fill="#ff0000"/>
<rect x="744" y="732" width="4" height="14" fill="#ff0000"/>
<rect x="752" y="696" width="4" height="36" fill="#ff0000"/>
<rect x="752" y="732" width="4" height="9" fill="#ff0000"/>
<rect x="760" y="700" width="4" height="32" fill="#ff0000"/>
<rect x="760" y="732" width="4" height="7" fill="#ff0000"/>
<rect x="768" y="705" width="4" height="27" fill="#ff0000"/>
<rect x="768" y="732" width="4" height="3" fill="#ff0000"/>
<rect x="776" y="708" width="4" height="24" fill="#ff0000"/>
<rect x="776" y="732" width="4" height="1" fill="#ff0000"/>
<rect x="784" y="712" width="4" height="20" fill="#ff0000"/>
<rect x="784" y="732" width="4" height="7" fill="#008000"/>
<rect x="792" y="715" width="4" height="17" fill="#ff0000"/>
<rect x="792" y="732" width="4" height="19" fill="#008000"/>
<rect x="800" y="713" width="4" height="19" fill="#008000"/>
<rect x="800" y="732" width="4" height="28" fill="#008000"/>
<rect x="808" y="706" width="4" height="26" fill="#008000"/>
<rect x="808" y="732" width="4" height="32" fill="#008000"/>
<rect x="816" y="698" width="4" height="34" fill="#008000"/>
<rect x="816" y="732" width="4" height="34" fill="#008000"/>
<rect x="824" y="692" width="4" height="40" fill="#008000"/>
<rect x="824" y="732" width="4" height="34" fill="#ff0000"/>
<rect x="832" y="689" width="4" height="43" fill="#008000"/>
<rect x="832" y="732" width="4" height="33" fill="#ff0000"/>
<rect x="840" y="689" width="4" height="43" fill="#008000"/>
<rect x="840" y="732" width="4" height="33" fill="#008000"/>
<rect x="848" y="689" width="4" height="43" fill="#008000"/>
<rect x="848" y="732" width="4" height="34" fill="#008000"/>
<rect x="856" y="689" width="4" height="43" fill="#ff0000"/>
<rect x="856" y="732" width="4" height="30" fill="#ff0000"/>
<rect x="864" y="688" width="4" height="44" fill="#008000"/>
<rect x="864" y="732" width="4" height="26" fill="#ff0000"/>
<rect x="872" y="689" width="4" height="43" fill="#ff0000"/>
<rect x="872" y="732" width="4" height="23" fill="#ff0000"/>
<rect x="880" y="691" width="4" height="41" fill="#ff0000"/>
<rect x="880" y="732" width="4" height="20" fill="#ff0000"/>
<rect x="888" y="695" width="4" height="37" fill="#ff0000"/>
<rect x="888" y="732" width="4" height="19" fill="#ff0000"/>
<rect x="896" y="697" width="4" height="35" fill="#ff0000"/>
<rect x="896" y="732" width="4" height="17" fill="#ff0000"/>
<rect x="904" y="699" width="4" height="33" fill="#ff0000"/>
<rect x="904" y="732" width="4" height="15" fill="#ff0000"/>
<rect x="912" y="700" width="4" height="32" fill="#ff0000"/>
<rect x="912" y="732" width="4" height="15" fill="#ff0000"/>
<rect x="920" y="702" width="4" height="30" fill="#ff0000"/>
<rect x="920" y="732" width="4" height="15" fill="#008000"/>
<rect x="928" y="703" width="4" height="29" fill="#ff0000"/>
<rect x="928" y="732" width="4" height="14" fill="#ff0000"/>
<rect x="936" y="703" width="4" height="29" fill="#ff0000"/>
<rect x="936" y="732" width="4" height="11" fill="#ff0000"/>
<rect x="944" y="704" width="4" height="28" fill="#ff0000"/>
<rect x="944" y="732" width="4" height="11" fill="#ff0000"/>
<rect x="952" y="706" width="4" height="26" fill="#ff0000"/>
<rect x="952" y="732" width="4" height="11" fill="#008000"/>
<rect x="960" y="708" width="4" height="24" fill="#ff0000"/>
<rect x="960" y="732" width="4" height="12" fill="#008000"/>
<rect x="968" y="708" width="4" height="24" fill="#ff0000"/>
<rect x="968" y="732" width="4" height="10" fill="#ff0000"/>
<rect x="976" y="708" width="4" height="24" fill="#ff0000"/>
<rect x="976" y="732" width="4" height="15" fill="#008000"/>
<rect x="984" y="709" width="4" height="23" fill="#ff0000"/>
<rect x="984" y="732" width="4" height="23" fill="#008000"/>
<rect x="992" y="707" width="4" height="25" fill="#008000"/>
<rect x="992" y="732" width="4" height="31" fill="#008000"/>
<rect x="1000" y="702" width="4" height="30" fill="#008000"/>
<rect x="1000" y="732" width="4" height="36" fill="#008000"/>
<rect x="1008" y="695" width="4" height="37" fill="#008000"/>
<rect x="1008" y="732" width="4" height="35" fill="#ff0000"/>
<rect x="1016" y="690" width="4" height="42" fill="#008000"/>
<rect x="1016" y="732" width="4" height="27" fill="#ff0000"/>
<rect x="1024" y="689" width="4" height="43" fill="#008000"/>
<rect x="1024" y="732" width="4" height="25" fill="#ff0000"/>
<rect x="1032" y="692" width="4" height="40" fill="#ff0000"/>
<rect x="1032" y="732" width="4" height="27" fill="#008000"/>
<rect x="1040" y="694" width="4" height="38" fill="#ff0000"/>
<rect x="1040" y="732" width="4" height="27" fill="#ff0000"/>
<rect x="1048" y="695" width="4" height="37" fill="#ff0000"/>
<rect x="1048" y="732" width="4" height="25" fill="#ff0000"/>
<rect x="1056" y="694" width="4" height="38" fill="#008000"/>
<rect x="1056" y="732" width="4" height="23" fill="#ff0000"/>
<rect x="1064" y="695" width="4" height="37" fill="#ff0000"/>
<rect x="1064" y="732" width="4" height="21" fill="#ff0000"/>
<rect x="1072" y="696" width="4" height="36" fill="#ff0000"/>
<rect x="1072" y="732" width="4" height="20" fill="#ff0000"/>
<rect x="1080" y="698" width="4" height="34" fill="#ff0000"/>
<rect x="1080" y="732" width="4" height="17" fill="#ff0000"/>
<rect x="1088" y="699" width="4" height="33" fill="#ff0000"/>
<rect x="1088" y="732" width="4" height="16" fill="#ff0000"/>
<rect x="1096" y="701" width="4" height="31" fill="#ff0000"/>
<rect x="1096" y="732" width="4" height="15" fill="#ff0000"/>
<rect x="1104" y="702" width="4" height="30" fill="#ff0000"/>
<rect x="1104" y="732" width="4" height="12" fill="#ff0000"/>
<rect x="1112" y="704" width="4" height="28" fill="#ff0000"/>
<rect x="1112" y="732" width="4" height="12" fill="#008000"/>
<rect x="1120" y="706" width="4" height="26" fill="#ff0000"/>
<rect x="1120" y="732" width="4" height="17" fill="#008000"/>
<rect x="1128" y="706" width="4" height="26" fill="#ff0000"/>
<rect x="1128" y="732" width="4" height="12" fill="#ff0000"/>
<rect x="1136" y="705" width="4" height="27" fill="#008000"/>
<rect x="1144" y="707" width="4" height="25" fill="#ff0000"/>
</g>
<g shape-rendering="crispEdges" stroke="#dedede" stroke-width="1" fill="none">
<line x1="3" y1="549.5" x2="1237" y2="549.5" stroke-dasharray="3 3" stroke-dashoffset="1"/>
<line x1="3" y1="629.5" x2="1237" y2="629.5" stroke-dasharray="3 3" stroke-dashoffset="1"/>
<line x1="3" y1="732.5" x2="1237" y2="732.5" stroke-dasharray="3 3" stroke-dashoffset="1"/>
</g>
<g shape-rendering="crispEdges">
<rect x="0" y="0" width="2" height="800" fill="#fff"/>
<rect x="1238" y="0" width="42" height="800" fill="#fff"/>
<rect x="0" y="474" width="1280" height="1" fill="#fff"/>
<rect x="0" y="576" width="1280" height="1" fill="#fff"/>
<rect x="0" y="678" width="1280" height="1" fill="#fff"/>
<rect x="0" y="780" width="1280" height="20" fill="#fff"/>
<rect x="0" y="0" width="1280" height="2" fill="#fff"/>
<rect x="2" y="2" width="1236" height="1" fill="#000"/>
<rect x="2" y="473" width="1236" height="1" fill="#000"/>
<rect x="2" y="2" width="1" height="472" fill="#000"/>
<rect x="1237" y="2" width="1" height="472" fill="#000"/>
<rect x="2" y="475" width="1236" height="1" fill="#000"/>
<rect x="2" y="575" width="1236" height="1" fill="#000"/>
<rect x="2" y="475" width="1" height="101" fill="#000"/>
<rect x="1237" y="475" width="1" height="101" fill="#000"/>
<rect x="1237" y="476" width="5" height="1" fill="#000"/>
<rect x="1237" y="574" width="5" height="1" fill="#000"/>
<rect x="2" y="577" width="1236" height="1" fill="#000"/>
<rect x="2" y="677" width="1236" height="1" fill="#000"/>
<rect x="2" y="577" width="1" height="101" fill="#000"/>
<rect x="1237" y="577" width="1" height="101" fill="#000"/>
<rect x="1237" y="578" width="5" height="1" fill="#000"/>
<rect x="1237" y="676" width="5" height="1" fill="#000"/>
<rect x="2" y="679" width="1236" height="1" fill="#000"/>
<rect x="2" y="779" width="1236" height="1" fill="#000"/>
<rect x="2" y="679" width="1" height="101" fill="#000"/>
<rect x="1237" y="679" width="1" height="101" fill="#000"/>
<rect x="1237" y="680" width="5" height="1" fill="#000"/>
<rect x="1237" y="778" width="5" height="1" fill="#000"/>
<rect x="1238" y="36" width="4" height="1" fill="#000"/>
<rect x="1238" y="69" width="4" height="1" fill="#000"/>
<rect x="1238" y="103" width="4" height="1" fill="#000"/>
<rect x="1238" y="137" width="4" height="1" fill="#000"/>
<rect x="1238" y="170" width="4" height="1" fill="#000"/>
<rect x="1238" y="204" width="4" height="1" fill="#000"/>
<rect x="1238" y="237" width="4" height="1" fill="#000"/>
<rect x="1238" y="271" width="4" height="1" fill="#000"/>
<rect x="1238" y="305" width="4" height="1" fill="#000"/>
<rect x="1238" y="338" width="4" height="1" fill="#000"/>
<rect x="1238" y="372" width="4" height="1" fill="#000"/>
<rect x="1238" y="406" width="4" height="1" fill="#000"/>
<rect x="1238" y="439" width="4" height="1" fill="#000"/>
<rect x="2" y="779" width="1" height="5" fill="#000"/>
<rect x="66" y="779" width="1" height="5" fill="#000"/>
<rect x="130" y="779" width="1" height="5" fill="#000"/>
<rect x="194" y="779" width="1" height="5" fill="#000"/>
<rect x="258" y="779" width="1" height="5" fill="#000"/>
<rect x="322" y="779" width="1" height="5" fill="#000"/>
<rect x="386" y="779" width="1" height="5" fill="#000"/>
<rect x="450" y="779" width="1" height="5" fill="#000"/>
<rect x="514" y="779" width="1" height="5" fill="#000"/>
<rect x="578" y="779" width="1" height="5" fill="#000"/>
<rect x="642" y="779" width="1" height="5" fill="#000"/>
<rect x="706" y="779" width="1" height="5" fill="#000"/>
<rect x="770" y="779" width="1" height="5" fill="#000"/>
<rect x="834" y="779" width="1" height="5" fill="#000"/>
<rect x="898" y="779" width="1" height="5" fill="#000"/>
<rect x="962" y="779" width="1" height="5" fill="#000"/>
<rect x="1026" y="779" width="1" height="5" fill="#000"/>
<rect x="1090" y="779" width="1" height="5" fill="#000"/>
<rect x="1240" y="78" width="29" height="11" fill="#cc0000"/>
</g>
<text transform="translate(1242.4,40) scale(0.9,1)">4.190</text>
<text transform="translate(1242.4,73) scale(0.9,1)">4.140</text>
<text transform="translate(1242.4,107) scale(0.9,1)">4.090</text>
<text transform="translate(1242.4,141) scale(0.9,1)">4.040</text>
<text transform="translate(1242.4,174) scale(0.9,1)">3.990</text>
<text transform="translate(1242.4,208) scale(0.9,1)">3.940</text>
<text transform="translate(1242.4,241) scale(0.9,1)">3.890</text>
<text transform="translate(1242.4,275) scale(0.9,1)">3.840</text>
<text transform="translate(1242.4,309) scale(0.9,1)">3.790</text>
<text transform="translate(1242.4,342) scale(0.9,1)">3.740</text>
<text transform="translate(1242.4,376) scale(0.9,1)">3.690</text>
<text transform="translate(1242.4,410) scale(0.9,1)">3.640</text>
<text transform="translate(1242.4,443) scale(0.9,1)">3.590</text>
<text transform="translate(1242.4,87) scale(0.9,1)" style="fill:#fff">4.120</text>
<g shape-rendering="crispEdges">
<rect x="4" y="479" width="65" height="11" fill="#fff"/>
<rect x="4" y="581" width="72" height="11" fill="#fff"/>
<rect x="4" y="683" width="110" height="11" fill="#fff"/>
</g>
<text x="5.8" y="488" textLength="30.5" lengthAdjust="spacingAndGlyphs">AOcust</text>
<text transform="translate(39.4,488) scale(0.9,1)">0.0501</text>
<text x="5.8" y="590" textLength="30.5" lengthAdjust="spacingAndGlyphs">ACcust</text>
<text transform="translate(38.6,590) scale(0.9,1)">-0.00410</text>
<text x="5.5" y="692" textLength="42" lengthAdjust="spacingAndGlyphs">GatorCust</text>
<text transform="translate(50.4,692) scale(0.9,1)">0.0292</text>
<text transform="translate(81.6,692) scale(0.9,1)">-0.0133</text>
<text transform="translate(1242.4,485) scale(0.9,1)">0.1150</text>
<text transform="translate(1242.4,552) scale(0.9,1)">0.0000</text>
<text transform="translate(1242.4,573) scale(0.9,1)">-0.0404</text>
<text transform="translate(1242.4,586) scale(0.9,1)">0.04388</text>
<text transform="translate(1242.4,632) scale(0.9,1)">0.00000</text>
<text transform="translate(1242.4,675) scale(0.9,1)">-0.03997</text>
<text transform="translate(1242.4,688) scale(0.9,1)">0.0616</text>
<text transform="translate(1242.4,735) scale(0.9,1)">0.0000</text>
<text transform="translate(1242.4,777) scale(0.9,1)">-0.0538</text>
<text transform="translate(2.2,792) scale(0.9,1)">12 Jun 2025</text>
<text transform="translate(66.2,792) scale(0.9,1)">12 Jun 15:00</text>
<text transform="translate(130.2,792) scale(0.9,1)">13 Jun 01:00</text>
<text transform="translate(194.2,792) scale(0.9,1)">13 Jun 09:00</text>
<text transform="translate(258.2,792) scale(0.9,1)">13 Jun 17:00</text>
<text transform="translate(322.2,792) scale(0.9,1)">16 Jun 03:00</text>
<text transform="translate(386.2,792) scale(0.9,1)">16 Jun 11:00</text>
<text transform="translate(450.2,792) scale(0.9,1)">16 Jun 19:00</text>
<text transform="translate(514.2,792) scale(0.9,1)">17 Jun 05:00</text>
<text transform="translate(578.2,792) scale(0.9,1)">17 Jun 13:00</text>
<text transform="translate(642.2,792) scale(0.9,1)">17 Jun 21:00</text>
<text transform="translate(706.2,792) scale(0.9,1)">18 Jun 07:00</text>
<text transform="translate(770.2,792) scale(0.9,1)">18 Jun 15:00</text>
<text transform="translate(834.2,792) scale(0.9,1)">19 Jun 01:00</text>
<text transform="translate(898.2,792) scale(0.9,1)">19 Jun 09:00</text>
<text transform="translate(962.2,792) scale(0.9,1)">19 Jun 17:00</text>
<text transform="translate(1026.2,792) scale(0.9,1)">20 Jun 05:00</text>
<text transform="translate(1090.2,792) scale(0.9,1)">20 Jun 13:00</text>
</svg></body></html>
